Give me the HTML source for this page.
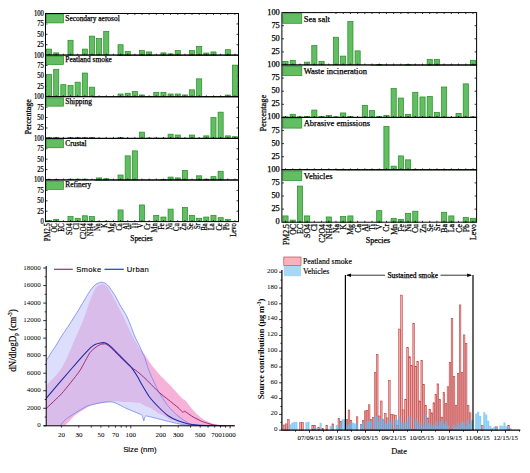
<!DOCTYPE html><html><head><meta charset="utf-8"><style>html,body{margin:0;padding:0;background:#fff;overflow:hidden}svg{display:block}</style></head><body>
<svg width="530" height="473" viewBox="0 0 530 473">
<rect width="530" height="473" fill="#fff"/>
<line x1="45.5" y1="44.71" x2="47.5" y2="44.71" stroke="#000" stroke-width="0.8"/>
<line x1="238.5" y1="44.71" x2="236.5" y2="44.71" stroke="#000" stroke-width="0.8"/>
<line x1="45.5" y1="34.31" x2="47.5" y2="34.31" stroke="#000" stroke-width="0.8"/>
<line x1="238.5" y1="34.31" x2="236.5" y2="34.31" stroke="#000" stroke-width="0.8"/>
<line x1="45.5" y1="23.91" x2="47.5" y2="23.91" stroke="#000" stroke-width="0.8"/>
<line x1="238.5" y1="23.91" x2="236.5" y2="23.91" stroke="#000" stroke-width="0.8"/>
<line x1="49.07" y1="13.5" x2="49.07" y2="14.9" stroke="#000" stroke-width="0.8"/>
<line x1="56.22" y1="13.5" x2="56.22" y2="14.9" stroke="#000" stroke-width="0.8"/>
<line x1="63.37" y1="13.5" x2="63.37" y2="14.9" stroke="#000" stroke-width="0.8"/>
<line x1="70.52" y1="13.5" x2="70.52" y2="14.9" stroke="#000" stroke-width="0.8"/>
<line x1="77.67" y1="13.5" x2="77.67" y2="14.9" stroke="#000" stroke-width="0.8"/>
<line x1="84.81" y1="13.5" x2="84.81" y2="14.9" stroke="#000" stroke-width="0.8"/>
<line x1="91.96" y1="13.5" x2="91.96" y2="14.9" stroke="#000" stroke-width="0.8"/>
<line x1="99.11" y1="13.5" x2="99.11" y2="14.9" stroke="#000" stroke-width="0.8"/>
<line x1="106.26" y1="13.5" x2="106.26" y2="14.9" stroke="#000" stroke-width="0.8"/>
<line x1="113.41" y1="13.5" x2="113.41" y2="14.9" stroke="#000" stroke-width="0.8"/>
<line x1="120.56" y1="13.5" x2="120.56" y2="14.9" stroke="#000" stroke-width="0.8"/>
<line x1="127.70" y1="13.5" x2="127.70" y2="14.9" stroke="#000" stroke-width="0.8"/>
<line x1="134.85" y1="13.5" x2="134.85" y2="14.9" stroke="#000" stroke-width="0.8"/>
<line x1="142.00" y1="13.5" x2="142.00" y2="14.9" stroke="#000" stroke-width="0.8"/>
<line x1="149.15" y1="13.5" x2="149.15" y2="14.9" stroke="#000" stroke-width="0.8"/>
<line x1="156.30" y1="13.5" x2="156.30" y2="14.9" stroke="#000" stroke-width="0.8"/>
<line x1="163.44" y1="13.5" x2="163.44" y2="14.9" stroke="#000" stroke-width="0.8"/>
<line x1="170.59" y1="13.5" x2="170.59" y2="14.9" stroke="#000" stroke-width="0.8"/>
<line x1="177.74" y1="13.5" x2="177.74" y2="14.9" stroke="#000" stroke-width="0.8"/>
<line x1="184.89" y1="13.5" x2="184.89" y2="14.9" stroke="#000" stroke-width="0.8"/>
<line x1="192.04" y1="13.5" x2="192.04" y2="14.9" stroke="#000" stroke-width="0.8"/>
<line x1="199.19" y1="13.5" x2="199.19" y2="14.9" stroke="#000" stroke-width="0.8"/>
<line x1="206.33" y1="13.5" x2="206.33" y2="14.9" stroke="#000" stroke-width="0.8"/>
<line x1="213.48" y1="13.5" x2="213.48" y2="14.9" stroke="#000" stroke-width="0.8"/>
<line x1="220.63" y1="13.5" x2="220.63" y2="14.9" stroke="#000" stroke-width="0.8"/>
<line x1="227.78" y1="13.5" x2="227.78" y2="14.9" stroke="#000" stroke-width="0.8"/>
<line x1="234.93" y1="13.5" x2="234.93" y2="14.9" stroke="#000" stroke-width="0.8"/>
<rect x="46.52" y="49.09" width="5.10" height="6.03" fill="#63bd63" stroke="#238c23" stroke-width="0.7"/>
<rect x="53.67" y="52.87" width="5.10" height="2.25" fill="#63bd63" stroke="#238c23" stroke-width="0.7"/>
<rect x="67.97" y="40.26" width="5.10" height="14.86" fill="#63bd63" stroke="#238c23" stroke-width="0.7"/>
<rect x="82.27" y="49.09" width="5.10" height="6.03" fill="#63bd63" stroke="#238c23" stroke-width="0.7"/>
<rect x="89.41" y="36.10" width="5.10" height="19.02" fill="#63bd63" stroke="#238c23" stroke-width="0.7"/>
<rect x="96.56" y="38.56" width="5.10" height="16.56" fill="#63bd63" stroke="#238c23" stroke-width="0.7"/>
<rect x="103.71" y="31.40" width="5.10" height="23.72" fill="#63bd63" stroke="#238c23" stroke-width="0.7"/>
<rect x="118.01" y="44.71" width="5.10" height="10.40" fill="#63bd63" stroke="#238c23" stroke-width="0.7"/>
<rect x="125.15" y="51.54" width="5.10" height="3.58" fill="#63bd63" stroke="#238c23" stroke-width="0.7"/>
<rect x="139.45" y="50.58" width="5.10" height="4.54" fill="#63bd63" stroke="#238c23" stroke-width="0.7"/>
<rect x="146.60" y="51.92" width="5.10" height="3.20" fill="#63bd63" stroke="#238c23" stroke-width="0.7"/>
<rect x="160.90" y="52.87" width="5.10" height="2.25" fill="#63bd63" stroke="#238c23" stroke-width="0.7"/>
<rect x="168.04" y="53.87" width="5.10" height="1.25" fill="#63bd63" stroke="#238c23" stroke-width="0.7"/>
<rect x="175.19" y="50.58" width="5.10" height="4.54" fill="#63bd63" stroke="#238c23" stroke-width="0.7"/>
<rect x="189.49" y="50.58" width="5.10" height="4.54" fill="#63bd63" stroke="#238c23" stroke-width="0.7"/>
<rect x="196.64" y="46.38" width="5.10" height="8.74" fill="#63bd63" stroke="#238c23" stroke-width="0.7"/>
<rect x="203.78" y="53.04" width="5.10" height="2.08" fill="#63bd63" stroke="#238c23" stroke-width="0.7"/>
<rect x="210.93" y="51.92" width="5.10" height="3.20" fill="#63bd63" stroke="#238c23" stroke-width="0.7"/>
<rect x="225.23" y="49.71" width="5.10" height="5.41" fill="#63bd63" stroke="#238c23" stroke-width="0.7"/>
<line x1="49.07" y1="55.12" x2="49.07" y2="53.72" stroke="#000" stroke-width="0.8"/>
<line x1="56.22" y1="55.12" x2="56.22" y2="53.72" stroke="#000" stroke-width="0.8"/>
<line x1="63.37" y1="55.12" x2="63.37" y2="53.72" stroke="#000" stroke-width="0.8"/>
<line x1="70.52" y1="55.12" x2="70.52" y2="53.72" stroke="#000" stroke-width="0.8"/>
<line x1="77.67" y1="55.12" x2="77.67" y2="53.72" stroke="#000" stroke-width="0.8"/>
<line x1="84.81" y1="55.12" x2="84.81" y2="53.72" stroke="#000" stroke-width="0.8"/>
<line x1="91.96" y1="55.12" x2="91.96" y2="53.72" stroke="#000" stroke-width="0.8"/>
<line x1="99.11" y1="55.12" x2="99.11" y2="53.72" stroke="#000" stroke-width="0.8"/>
<line x1="106.26" y1="55.12" x2="106.26" y2="53.72" stroke="#000" stroke-width="0.8"/>
<line x1="113.41" y1="55.12" x2="113.41" y2="53.72" stroke="#000" stroke-width="0.8"/>
<line x1="120.56" y1="55.12" x2="120.56" y2="53.72" stroke="#000" stroke-width="0.8"/>
<line x1="127.70" y1="55.12" x2="127.70" y2="53.72" stroke="#000" stroke-width="0.8"/>
<line x1="134.85" y1="55.12" x2="134.85" y2="53.72" stroke="#000" stroke-width="0.8"/>
<line x1="142.00" y1="55.12" x2="142.00" y2="53.72" stroke="#000" stroke-width="0.8"/>
<line x1="149.15" y1="55.12" x2="149.15" y2="53.72" stroke="#000" stroke-width="0.8"/>
<line x1="156.30" y1="55.12" x2="156.30" y2="53.72" stroke="#000" stroke-width="0.8"/>
<line x1="163.44" y1="55.12" x2="163.44" y2="53.72" stroke="#000" stroke-width="0.8"/>
<line x1="170.59" y1="55.12" x2="170.59" y2="53.72" stroke="#000" stroke-width="0.8"/>
<line x1="177.74" y1="55.12" x2="177.74" y2="53.72" stroke="#000" stroke-width="0.8"/>
<line x1="184.89" y1="55.12" x2="184.89" y2="53.72" stroke="#000" stroke-width="0.8"/>
<line x1="192.04" y1="55.12" x2="192.04" y2="53.72" stroke="#000" stroke-width="0.8"/>
<line x1="199.19" y1="55.12" x2="199.19" y2="53.72" stroke="#000" stroke-width="0.8"/>
<line x1="206.33" y1="55.12" x2="206.33" y2="53.72" stroke="#000" stroke-width="0.8"/>
<line x1="213.48" y1="55.12" x2="213.48" y2="53.72" stroke="#000" stroke-width="0.8"/>
<line x1="220.63" y1="55.12" x2="220.63" y2="53.72" stroke="#000" stroke-width="0.8"/>
<line x1="227.78" y1="55.12" x2="227.78" y2="53.72" stroke="#000" stroke-width="0.8"/>
<line x1="234.93" y1="55.12" x2="234.93" y2="53.72" stroke="#000" stroke-width="0.8"/>
<rect x="46.00" y="14.00" width="76.00" height="9.30" fill="#fff"/>
<rect x="46.40" y="14.60" width="17.00" height="8.30" fill="#63bd63" stroke="#238c23" stroke-width="0.7"/>
<text transform="translate(65.30,20.80)" text-anchor="start" font-family="Liberation Serif" font-size="7.4" stroke="#000" stroke-width="0.25" fill="#000">Secondary aerosol</text>
<text transform="translate(43.90,15.90) scale(0.740,1)" text-anchor="end" font-family="Liberation Serif" font-size="9.0" stroke="#000" stroke-width="0.25" fill="#000">100</text>
<text transform="translate(43.90,26.30) scale(0.740,1)" text-anchor="end" font-family="Liberation Serif" font-size="9.0" stroke="#000" stroke-width="0.25" fill="#000">75</text>
<text transform="translate(43.90,36.71) scale(0.740,1)" text-anchor="end" font-family="Liberation Serif" font-size="9.0" stroke="#000" stroke-width="0.25" fill="#000">50</text>
<text transform="translate(43.90,47.11) scale(0.740,1)" text-anchor="end" font-family="Liberation Serif" font-size="9.0" stroke="#000" stroke-width="0.25" fill="#000">25</text>
<rect x="45.5" y="13.50" width="193.0" height="41.62" fill="none" stroke="#000" stroke-width="1"/>
<line x1="45.5" y1="86.33" x2="47.5" y2="86.33" stroke="#000" stroke-width="0.8"/>
<line x1="238.5" y1="86.33" x2="236.5" y2="86.33" stroke="#000" stroke-width="0.8"/>
<line x1="45.5" y1="75.93" x2="47.5" y2="75.93" stroke="#000" stroke-width="0.8"/>
<line x1="238.5" y1="75.93" x2="236.5" y2="75.93" stroke="#000" stroke-width="0.8"/>
<line x1="45.5" y1="65.53" x2="47.5" y2="65.53" stroke="#000" stroke-width="0.8"/>
<line x1="238.5" y1="65.53" x2="236.5" y2="65.53" stroke="#000" stroke-width="0.8"/>
<rect x="46.52" y="74.27" width="5.10" height="22.47" fill="#63bd63" stroke="#238c23" stroke-width="0.7"/>
<rect x="53.67" y="69.27" width="5.10" height="27.47" fill="#63bd63" stroke="#238c23" stroke-width="0.7"/>
<rect x="60.82" y="84.67" width="5.10" height="12.07" fill="#63bd63" stroke="#238c23" stroke-width="0.7"/>
<rect x="67.97" y="85.50" width="5.10" height="11.24" fill="#63bd63" stroke="#238c23" stroke-width="0.7"/>
<rect x="75.12" y="82.17" width="5.10" height="14.57" fill="#63bd63" stroke="#238c23" stroke-width="0.7"/>
<rect x="82.27" y="73.02" width="5.10" height="23.72" fill="#63bd63" stroke="#238c23" stroke-width="0.7"/>
<rect x="89.41" y="87.17" width="5.10" height="9.57" fill="#63bd63" stroke="#238c23" stroke-width="0.7"/>
<rect x="118.01" y="93.99" width="5.10" height="2.75" fill="#63bd63" stroke="#238c23" stroke-width="0.7"/>
<rect x="125.15" y="93.24" width="5.10" height="3.50" fill="#63bd63" stroke="#238c23" stroke-width="0.7"/>
<rect x="132.30" y="91.54" width="5.10" height="5.20" fill="#63bd63" stroke="#238c23" stroke-width="0.7"/>
<rect x="139.45" y="94.95" width="5.10" height="1.79" fill="#63bd63" stroke="#238c23" stroke-width="0.7"/>
<rect x="146.60" y="96.32" width="5.10" height="0.42" fill="#63bd63" stroke="#238c23" stroke-width="0.7"/>
<rect x="153.75" y="92.29" width="5.10" height="4.45" fill="#63bd63" stroke="#238c23" stroke-width="0.7"/>
<rect x="160.90" y="92.29" width="5.10" height="4.45" fill="#63bd63" stroke="#238c23" stroke-width="0.7"/>
<rect x="168.04" y="93.99" width="5.10" height="2.75" fill="#63bd63" stroke="#238c23" stroke-width="0.7"/>
<rect x="175.19" y="93.99" width="5.10" height="2.75" fill="#63bd63" stroke="#238c23" stroke-width="0.7"/>
<rect x="182.34" y="94.95" width="5.10" height="1.79" fill="#63bd63" stroke="#238c23" stroke-width="0.7"/>
<rect x="189.49" y="89.83" width="5.10" height="6.91" fill="#63bd63" stroke="#238c23" stroke-width="0.7"/>
<rect x="196.64" y="78.84" width="5.10" height="17.90" fill="#63bd63" stroke="#238c23" stroke-width="0.7"/>
<rect x="203.78" y="96.53" width="5.10" height="0.21" fill="#63bd63" stroke="#238c23" stroke-width="0.7"/>
<rect x="210.93" y="96.53" width="5.10" height="0.21" fill="#63bd63" stroke="#238c23" stroke-width="0.7"/>
<rect x="218.08" y="96.53" width="5.10" height="0.21" fill="#63bd63" stroke="#238c23" stroke-width="0.7"/>
<rect x="225.23" y="95.08" width="5.10" height="1.66" fill="#63bd63" stroke="#238c23" stroke-width="0.7"/>
<rect x="232.38" y="65.11" width="5.10" height="31.63" fill="#63bd63" stroke="#238c23" stroke-width="0.7"/>
<line x1="49.07" y1="96.74" x2="49.07" y2="95.33999999999999" stroke="#000" stroke-width="0.8"/>
<line x1="56.22" y1="96.74" x2="56.22" y2="95.33999999999999" stroke="#000" stroke-width="0.8"/>
<line x1="63.37" y1="96.74" x2="63.37" y2="95.33999999999999" stroke="#000" stroke-width="0.8"/>
<line x1="70.52" y1="96.74" x2="70.52" y2="95.33999999999999" stroke="#000" stroke-width="0.8"/>
<line x1="77.67" y1="96.74" x2="77.67" y2="95.33999999999999" stroke="#000" stroke-width="0.8"/>
<line x1="84.81" y1="96.74" x2="84.81" y2="95.33999999999999" stroke="#000" stroke-width="0.8"/>
<line x1="91.96" y1="96.74" x2="91.96" y2="95.33999999999999" stroke="#000" stroke-width="0.8"/>
<line x1="99.11" y1="96.74" x2="99.11" y2="95.33999999999999" stroke="#000" stroke-width="0.8"/>
<line x1="106.26" y1="96.74" x2="106.26" y2="95.33999999999999" stroke="#000" stroke-width="0.8"/>
<line x1="113.41" y1="96.74" x2="113.41" y2="95.33999999999999" stroke="#000" stroke-width="0.8"/>
<line x1="120.56" y1="96.74" x2="120.56" y2="95.33999999999999" stroke="#000" stroke-width="0.8"/>
<line x1="127.70" y1="96.74" x2="127.70" y2="95.33999999999999" stroke="#000" stroke-width="0.8"/>
<line x1="134.85" y1="96.74" x2="134.85" y2="95.33999999999999" stroke="#000" stroke-width="0.8"/>
<line x1="142.00" y1="96.74" x2="142.00" y2="95.33999999999999" stroke="#000" stroke-width="0.8"/>
<line x1="149.15" y1="96.74" x2="149.15" y2="95.33999999999999" stroke="#000" stroke-width="0.8"/>
<line x1="156.30" y1="96.74" x2="156.30" y2="95.33999999999999" stroke="#000" stroke-width="0.8"/>
<line x1="163.44" y1="96.74" x2="163.44" y2="95.33999999999999" stroke="#000" stroke-width="0.8"/>
<line x1="170.59" y1="96.74" x2="170.59" y2="95.33999999999999" stroke="#000" stroke-width="0.8"/>
<line x1="177.74" y1="96.74" x2="177.74" y2="95.33999999999999" stroke="#000" stroke-width="0.8"/>
<line x1="184.89" y1="96.74" x2="184.89" y2="95.33999999999999" stroke="#000" stroke-width="0.8"/>
<line x1="192.04" y1="96.74" x2="192.04" y2="95.33999999999999" stroke="#000" stroke-width="0.8"/>
<line x1="199.19" y1="96.74" x2="199.19" y2="95.33999999999999" stroke="#000" stroke-width="0.8"/>
<line x1="206.33" y1="96.74" x2="206.33" y2="95.33999999999999" stroke="#000" stroke-width="0.8"/>
<line x1="213.48" y1="96.74" x2="213.48" y2="95.33999999999999" stroke="#000" stroke-width="0.8"/>
<line x1="220.63" y1="96.74" x2="220.63" y2="95.33999999999999" stroke="#000" stroke-width="0.8"/>
<line x1="227.78" y1="96.74" x2="227.78" y2="95.33999999999999" stroke="#000" stroke-width="0.8"/>
<line x1="234.93" y1="96.74" x2="234.93" y2="95.33999999999999" stroke="#000" stroke-width="0.8"/>
<rect x="46.00" y="55.62" width="71.00" height="9.30" fill="#fff"/>
<rect x="46.40" y="56.22" width="17.00" height="8.30" fill="#63bd63" stroke="#238c23" stroke-width="0.7"/>
<text transform="translate(65.30,62.42)" text-anchor="start" font-family="Liberation Serif" font-size="7.4" stroke="#000" stroke-width="0.25" fill="#000">Peatland smoke</text>
<text transform="translate(43.90,57.52) scale(0.740,1)" text-anchor="end" font-family="Liberation Serif" font-size="9.0" stroke="#000" stroke-width="0.25" fill="#000">100</text>
<text transform="translate(43.90,67.92) scale(0.740,1)" text-anchor="end" font-family="Liberation Serif" font-size="9.0" stroke="#000" stroke-width="0.25" fill="#000">75</text>
<text transform="translate(43.90,78.33) scale(0.740,1)" text-anchor="end" font-family="Liberation Serif" font-size="9.0" stroke="#000" stroke-width="0.25" fill="#000">50</text>
<text transform="translate(43.90,88.73) scale(0.740,1)" text-anchor="end" font-family="Liberation Serif" font-size="9.0" stroke="#000" stroke-width="0.25" fill="#000">25</text>
<rect x="45.5" y="55.12" width="193.0" height="41.62" fill="none" stroke="#000" stroke-width="1"/>
<line x1="45.5" y1="127.95" x2="47.5" y2="127.95" stroke="#000" stroke-width="0.8"/>
<line x1="238.5" y1="127.95" x2="236.5" y2="127.95" stroke="#000" stroke-width="0.8"/>
<line x1="45.5" y1="117.55" x2="47.5" y2="117.55" stroke="#000" stroke-width="0.8"/>
<line x1="238.5" y1="117.55" x2="236.5" y2="117.55" stroke="#000" stroke-width="0.8"/>
<line x1="45.5" y1="107.14" x2="47.5" y2="107.14" stroke="#000" stroke-width="0.8"/>
<line x1="238.5" y1="107.14" x2="236.5" y2="107.14" stroke="#000" stroke-width="0.8"/>
<rect x="46.52" y="137.53" width="5.10" height="0.83" fill="#63bd63" stroke="#238c23" stroke-width="0.7"/>
<rect x="53.67" y="137.53" width="5.10" height="0.83" fill="#63bd63" stroke="#238c23" stroke-width="0.7"/>
<rect x="67.97" y="137.53" width="5.10" height="0.83" fill="#63bd63" stroke="#238c23" stroke-width="0.7"/>
<rect x="75.12" y="137.53" width="5.10" height="0.83" fill="#63bd63" stroke="#238c23" stroke-width="0.7"/>
<rect x="82.27" y="137.53" width="5.10" height="0.83" fill="#63bd63" stroke="#238c23" stroke-width="0.7"/>
<rect x="89.41" y="137.53" width="5.10" height="0.83" fill="#63bd63" stroke="#238c23" stroke-width="0.7"/>
<rect x="118.01" y="137.53" width="5.10" height="0.83" fill="#63bd63" stroke="#238c23" stroke-width="0.7"/>
<rect x="139.45" y="132.12" width="5.10" height="6.24" fill="#63bd63" stroke="#238c23" stroke-width="0.7"/>
<rect x="146.60" y="138.15" width="5.10" height="0.21" fill="#63bd63" stroke="#238c23" stroke-width="0.7"/>
<rect x="153.75" y="138.15" width="5.10" height="0.21" fill="#63bd63" stroke="#238c23" stroke-width="0.7"/>
<rect x="160.90" y="138.15" width="5.10" height="0.21" fill="#63bd63" stroke="#238c23" stroke-width="0.7"/>
<rect x="168.04" y="134.20" width="5.10" height="4.16" fill="#63bd63" stroke="#238c23" stroke-width="0.7"/>
<rect x="175.19" y="135.03" width="5.10" height="3.33" fill="#63bd63" stroke="#238c23" stroke-width="0.7"/>
<rect x="189.49" y="135.03" width="5.10" height="3.33" fill="#63bd63" stroke="#238c23" stroke-width="0.7"/>
<rect x="203.78" y="135.86" width="5.10" height="2.50" fill="#63bd63" stroke="#238c23" stroke-width="0.7"/>
<rect x="210.93" y="117.55" width="5.10" height="20.81" fill="#63bd63" stroke="#238c23" stroke-width="0.7"/>
<rect x="218.08" y="112.14" width="5.10" height="26.22" fill="#63bd63" stroke="#238c23" stroke-width="0.7"/>
<rect x="225.23" y="135.86" width="5.10" height="2.50" fill="#63bd63" stroke="#238c23" stroke-width="0.7"/>
<rect x="232.38" y="136.70" width="5.10" height="1.66" fill="#63bd63" stroke="#238c23" stroke-width="0.7"/>
<line x1="49.07" y1="138.35999999999999" x2="49.07" y2="136.95999999999998" stroke="#000" stroke-width="0.8"/>
<line x1="56.22" y1="138.35999999999999" x2="56.22" y2="136.95999999999998" stroke="#000" stroke-width="0.8"/>
<line x1="63.37" y1="138.35999999999999" x2="63.37" y2="136.95999999999998" stroke="#000" stroke-width="0.8"/>
<line x1="70.52" y1="138.35999999999999" x2="70.52" y2="136.95999999999998" stroke="#000" stroke-width="0.8"/>
<line x1="77.67" y1="138.35999999999999" x2="77.67" y2="136.95999999999998" stroke="#000" stroke-width="0.8"/>
<line x1="84.81" y1="138.35999999999999" x2="84.81" y2="136.95999999999998" stroke="#000" stroke-width="0.8"/>
<line x1="91.96" y1="138.35999999999999" x2="91.96" y2="136.95999999999998" stroke="#000" stroke-width="0.8"/>
<line x1="99.11" y1="138.35999999999999" x2="99.11" y2="136.95999999999998" stroke="#000" stroke-width="0.8"/>
<line x1="106.26" y1="138.35999999999999" x2="106.26" y2="136.95999999999998" stroke="#000" stroke-width="0.8"/>
<line x1="113.41" y1="138.35999999999999" x2="113.41" y2="136.95999999999998" stroke="#000" stroke-width="0.8"/>
<line x1="120.56" y1="138.35999999999999" x2="120.56" y2="136.95999999999998" stroke="#000" stroke-width="0.8"/>
<line x1="127.70" y1="138.35999999999999" x2="127.70" y2="136.95999999999998" stroke="#000" stroke-width="0.8"/>
<line x1="134.85" y1="138.35999999999999" x2="134.85" y2="136.95999999999998" stroke="#000" stroke-width="0.8"/>
<line x1="142.00" y1="138.35999999999999" x2="142.00" y2="136.95999999999998" stroke="#000" stroke-width="0.8"/>
<line x1="149.15" y1="138.35999999999999" x2="149.15" y2="136.95999999999998" stroke="#000" stroke-width="0.8"/>
<line x1="156.30" y1="138.35999999999999" x2="156.30" y2="136.95999999999998" stroke="#000" stroke-width="0.8"/>
<line x1="163.44" y1="138.35999999999999" x2="163.44" y2="136.95999999999998" stroke="#000" stroke-width="0.8"/>
<line x1="170.59" y1="138.35999999999999" x2="170.59" y2="136.95999999999998" stroke="#000" stroke-width="0.8"/>
<line x1="177.74" y1="138.35999999999999" x2="177.74" y2="136.95999999999998" stroke="#000" stroke-width="0.8"/>
<line x1="184.89" y1="138.35999999999999" x2="184.89" y2="136.95999999999998" stroke="#000" stroke-width="0.8"/>
<line x1="192.04" y1="138.35999999999999" x2="192.04" y2="136.95999999999998" stroke="#000" stroke-width="0.8"/>
<line x1="199.19" y1="138.35999999999999" x2="199.19" y2="136.95999999999998" stroke="#000" stroke-width="0.8"/>
<line x1="206.33" y1="138.35999999999999" x2="206.33" y2="136.95999999999998" stroke="#000" stroke-width="0.8"/>
<line x1="213.48" y1="138.35999999999999" x2="213.48" y2="136.95999999999998" stroke="#000" stroke-width="0.8"/>
<line x1="220.63" y1="138.35999999999999" x2="220.63" y2="136.95999999999998" stroke="#000" stroke-width="0.8"/>
<line x1="227.78" y1="138.35999999999999" x2="227.78" y2="136.95999999999998" stroke="#000" stroke-width="0.8"/>
<line x1="234.93" y1="138.35999999999999" x2="234.93" y2="136.95999999999998" stroke="#000" stroke-width="0.8"/>
<rect x="46.00" y="97.24" width="46.00" height="9.30" fill="#fff"/>
<rect x="46.40" y="97.84" width="17.00" height="8.30" fill="#63bd63" stroke="#238c23" stroke-width="0.7"/>
<text transform="translate(65.30,104.04)" text-anchor="start" font-family="Liberation Serif" font-size="7.4" stroke="#000" stroke-width="0.25" fill="#000">Shipping</text>
<text transform="translate(43.90,99.14) scale(0.740,1)" text-anchor="end" font-family="Liberation Serif" font-size="9.0" stroke="#000" stroke-width="0.25" fill="#000">100</text>
<text transform="translate(43.90,109.55) scale(0.740,1)" text-anchor="end" font-family="Liberation Serif" font-size="9.0" stroke="#000" stroke-width="0.25" fill="#000">75</text>
<text transform="translate(43.90,119.95) scale(0.740,1)" text-anchor="end" font-family="Liberation Serif" font-size="9.0" stroke="#000" stroke-width="0.25" fill="#000">50</text>
<text transform="translate(43.90,130.35) scale(0.740,1)" text-anchor="end" font-family="Liberation Serif" font-size="9.0" stroke="#000" stroke-width="0.25" fill="#000">25</text>
<rect x="45.5" y="96.74" width="193.0" height="41.62" fill="none" stroke="#000" stroke-width="1"/>
<line x1="45.5" y1="169.57" x2="47.5" y2="169.57" stroke="#000" stroke-width="0.8"/>
<line x1="238.5" y1="169.57" x2="236.5" y2="169.57" stroke="#000" stroke-width="0.8"/>
<line x1="45.5" y1="159.17" x2="47.5" y2="159.17" stroke="#000" stroke-width="0.8"/>
<line x1="238.5" y1="159.17" x2="236.5" y2="159.17" stroke="#000" stroke-width="0.8"/>
<line x1="45.5" y1="148.76" x2="47.5" y2="148.76" stroke="#000" stroke-width="0.8"/>
<line x1="238.5" y1="148.76" x2="236.5" y2="148.76" stroke="#000" stroke-width="0.8"/>
<rect x="46.52" y="179.56" width="5.10" height="0.42" fill="#63bd63" stroke="#238c23" stroke-width="0.7"/>
<rect x="53.67" y="179.56" width="5.10" height="0.42" fill="#63bd63" stroke="#238c23" stroke-width="0.7"/>
<rect x="67.97" y="179.15" width="5.10" height="0.83" fill="#63bd63" stroke="#238c23" stroke-width="0.7"/>
<rect x="75.12" y="179.15" width="5.10" height="0.83" fill="#63bd63" stroke="#238c23" stroke-width="0.7"/>
<rect x="82.27" y="179.15" width="5.10" height="0.83" fill="#63bd63" stroke="#238c23" stroke-width="0.7"/>
<rect x="96.56" y="177.90" width="5.10" height="2.08" fill="#63bd63" stroke="#238c23" stroke-width="0.7"/>
<rect x="103.71" y="178.73" width="5.10" height="1.25" fill="#63bd63" stroke="#238c23" stroke-width="0.7"/>
<rect x="118.01" y="174.99" width="5.10" height="4.99" fill="#63bd63" stroke="#238c23" stroke-width="0.7"/>
<rect x="125.15" y="155.84" width="5.10" height="24.14" fill="#63bd63" stroke="#238c23" stroke-width="0.7"/>
<rect x="132.30" y="150.85" width="5.10" height="29.13" fill="#63bd63" stroke="#238c23" stroke-width="0.7"/>
<rect x="160.90" y="179.56" width="5.10" height="0.42" fill="#63bd63" stroke="#238c23" stroke-width="0.7"/>
<rect x="168.04" y="177.07" width="5.10" height="2.91" fill="#63bd63" stroke="#238c23" stroke-width="0.7"/>
<rect x="175.19" y="177.90" width="5.10" height="2.08" fill="#63bd63" stroke="#238c23" stroke-width="0.7"/>
<rect x="182.34" y="170.41" width="5.10" height="9.57" fill="#63bd63" stroke="#238c23" stroke-width="0.7"/>
<rect x="196.64" y="175.82" width="5.10" height="4.16" fill="#63bd63" stroke="#238c23" stroke-width="0.7"/>
<rect x="203.78" y="179.15" width="5.10" height="0.83" fill="#63bd63" stroke="#238c23" stroke-width="0.7"/>
<rect x="210.93" y="176.65" width="5.10" height="3.33" fill="#63bd63" stroke="#238c23" stroke-width="0.7"/>
<rect x="218.08" y="171.24" width="5.10" height="8.74" fill="#63bd63" stroke="#238c23" stroke-width="0.7"/>
<line x1="49.07" y1="179.98" x2="49.07" y2="178.57999999999998" stroke="#000" stroke-width="0.8"/>
<line x1="56.22" y1="179.98" x2="56.22" y2="178.57999999999998" stroke="#000" stroke-width="0.8"/>
<line x1="63.37" y1="179.98" x2="63.37" y2="178.57999999999998" stroke="#000" stroke-width="0.8"/>
<line x1="70.52" y1="179.98" x2="70.52" y2="178.57999999999998" stroke="#000" stroke-width="0.8"/>
<line x1="77.67" y1="179.98" x2="77.67" y2="178.57999999999998" stroke="#000" stroke-width="0.8"/>
<line x1="84.81" y1="179.98" x2="84.81" y2="178.57999999999998" stroke="#000" stroke-width="0.8"/>
<line x1="91.96" y1="179.98" x2="91.96" y2="178.57999999999998" stroke="#000" stroke-width="0.8"/>
<line x1="99.11" y1="179.98" x2="99.11" y2="178.57999999999998" stroke="#000" stroke-width="0.8"/>
<line x1="106.26" y1="179.98" x2="106.26" y2="178.57999999999998" stroke="#000" stroke-width="0.8"/>
<line x1="113.41" y1="179.98" x2="113.41" y2="178.57999999999998" stroke="#000" stroke-width="0.8"/>
<line x1="120.56" y1="179.98" x2="120.56" y2="178.57999999999998" stroke="#000" stroke-width="0.8"/>
<line x1="127.70" y1="179.98" x2="127.70" y2="178.57999999999998" stroke="#000" stroke-width="0.8"/>
<line x1="134.85" y1="179.98" x2="134.85" y2="178.57999999999998" stroke="#000" stroke-width="0.8"/>
<line x1="142.00" y1="179.98" x2="142.00" y2="178.57999999999998" stroke="#000" stroke-width="0.8"/>
<line x1="149.15" y1="179.98" x2="149.15" y2="178.57999999999998" stroke="#000" stroke-width="0.8"/>
<line x1="156.30" y1="179.98" x2="156.30" y2="178.57999999999998" stroke="#000" stroke-width="0.8"/>
<line x1="163.44" y1="179.98" x2="163.44" y2="178.57999999999998" stroke="#000" stroke-width="0.8"/>
<line x1="170.59" y1="179.98" x2="170.59" y2="178.57999999999998" stroke="#000" stroke-width="0.8"/>
<line x1="177.74" y1="179.98" x2="177.74" y2="178.57999999999998" stroke="#000" stroke-width="0.8"/>
<line x1="184.89" y1="179.98" x2="184.89" y2="178.57999999999998" stroke="#000" stroke-width="0.8"/>
<line x1="192.04" y1="179.98" x2="192.04" y2="178.57999999999998" stroke="#000" stroke-width="0.8"/>
<line x1="199.19" y1="179.98" x2="199.19" y2="178.57999999999998" stroke="#000" stroke-width="0.8"/>
<line x1="206.33" y1="179.98" x2="206.33" y2="178.57999999999998" stroke="#000" stroke-width="0.8"/>
<line x1="213.48" y1="179.98" x2="213.48" y2="178.57999999999998" stroke="#000" stroke-width="0.8"/>
<line x1="220.63" y1="179.98" x2="220.63" y2="178.57999999999998" stroke="#000" stroke-width="0.8"/>
<line x1="227.78" y1="179.98" x2="227.78" y2="178.57999999999998" stroke="#000" stroke-width="0.8"/>
<line x1="234.93" y1="179.98" x2="234.93" y2="178.57999999999998" stroke="#000" stroke-width="0.8"/>
<rect x="46.00" y="138.86" width="45.00" height="9.30" fill="#fff"/>
<rect x="46.40" y="139.46" width="17.00" height="8.30" fill="#63bd63" stroke="#238c23" stroke-width="0.7"/>
<text transform="translate(65.30,145.66)" text-anchor="start" font-family="Liberation Serif" font-size="7.4" stroke="#000" stroke-width="0.25" fill="#000">Crustal</text>
<text transform="translate(43.90,140.76) scale(0.740,1)" text-anchor="end" font-family="Liberation Serif" font-size="9.0" stroke="#000" stroke-width="0.25" fill="#000">100</text>
<text transform="translate(43.90,151.16) scale(0.740,1)" text-anchor="end" font-family="Liberation Serif" font-size="9.0" stroke="#000" stroke-width="0.25" fill="#000">75</text>
<text transform="translate(43.90,161.57) scale(0.740,1)" text-anchor="end" font-family="Liberation Serif" font-size="9.0" stroke="#000" stroke-width="0.25" fill="#000">50</text>
<text transform="translate(43.90,171.97) scale(0.740,1)" text-anchor="end" font-family="Liberation Serif" font-size="9.0" stroke="#000" stroke-width="0.25" fill="#000">25</text>
<rect x="45.5" y="138.36" width="193.0" height="41.62" fill="none" stroke="#000" stroke-width="1"/>
<line x1="45.5" y1="211.19" x2="47.5" y2="211.19" stroke="#000" stroke-width="0.8"/>
<line x1="238.5" y1="211.19" x2="236.5" y2="211.19" stroke="#000" stroke-width="0.8"/>
<line x1="45.5" y1="200.79" x2="47.5" y2="200.79" stroke="#000" stroke-width="0.8"/>
<line x1="238.5" y1="200.79" x2="236.5" y2="200.79" stroke="#000" stroke-width="0.8"/>
<line x1="45.5" y1="190.38" x2="47.5" y2="190.38" stroke="#000" stroke-width="0.8"/>
<line x1="238.5" y1="190.38" x2="236.5" y2="190.38" stroke="#000" stroke-width="0.8"/>
<rect x="46.52" y="220.35" width="5.10" height="1.25" fill="#63bd63" stroke="#238c23" stroke-width="0.7"/>
<rect x="53.67" y="219.31" width="5.10" height="2.29" fill="#63bd63" stroke="#238c23" stroke-width="0.7"/>
<rect x="67.97" y="216.61" width="5.10" height="4.99" fill="#63bd63" stroke="#238c23" stroke-width="0.7"/>
<rect x="75.12" y="218.27" width="5.10" height="3.33" fill="#63bd63" stroke="#238c23" stroke-width="0.7"/>
<rect x="82.27" y="215.77" width="5.10" height="5.83" fill="#63bd63" stroke="#238c23" stroke-width="0.7"/>
<rect x="89.41" y="216.61" width="5.10" height="4.99" fill="#63bd63" stroke="#238c23" stroke-width="0.7"/>
<rect x="96.56" y="221.39" width="5.10" height="0.21" fill="#63bd63" stroke="#238c23" stroke-width="0.7"/>
<rect x="103.71" y="221.18" width="5.10" height="0.42" fill="#63bd63" stroke="#238c23" stroke-width="0.7"/>
<rect x="110.86" y="221.39" width="5.10" height="0.21" fill="#63bd63" stroke="#238c23" stroke-width="0.7"/>
<rect x="118.01" y="209.95" width="5.10" height="11.65" fill="#63bd63" stroke="#238c23" stroke-width="0.7"/>
<rect x="139.45" y="204.95" width="5.10" height="16.65" fill="#63bd63" stroke="#238c23" stroke-width="0.7"/>
<rect x="153.75" y="215.36" width="5.10" height="6.24" fill="#63bd63" stroke="#238c23" stroke-width="0.7"/>
<rect x="160.90" y="217.02" width="5.10" height="4.58" fill="#63bd63" stroke="#238c23" stroke-width="0.7"/>
<rect x="168.04" y="209.11" width="5.10" height="12.49" fill="#63bd63" stroke="#238c23" stroke-width="0.7"/>
<rect x="182.34" y="207.45" width="5.10" height="14.15" fill="#63bd63" stroke="#238c23" stroke-width="0.7"/>
<rect x="189.49" y="215.36" width="5.10" height="6.24" fill="#63bd63" stroke="#238c23" stroke-width="0.7"/>
<rect x="196.64" y="218.27" width="5.10" height="3.33" fill="#63bd63" stroke="#238c23" stroke-width="0.7"/>
<rect x="203.78" y="217.02" width="5.10" height="4.58" fill="#63bd63" stroke="#238c23" stroke-width="0.7"/>
<rect x="210.93" y="215.36" width="5.10" height="6.24" fill="#63bd63" stroke="#238c23" stroke-width="0.7"/>
<rect x="218.08" y="217.65" width="5.10" height="3.95" fill="#63bd63" stroke="#238c23" stroke-width="0.7"/>
<rect x="225.23" y="219.31" width="5.10" height="2.29" fill="#63bd63" stroke="#238c23" stroke-width="0.7"/>
<line x1="49.07" y1="221.6" x2="49.07" y2="220.2" stroke="#000" stroke-width="0.8"/>
<line x1="56.22" y1="221.6" x2="56.22" y2="220.2" stroke="#000" stroke-width="0.8"/>
<line x1="63.37" y1="221.6" x2="63.37" y2="220.2" stroke="#000" stroke-width="0.8"/>
<line x1="70.52" y1="221.6" x2="70.52" y2="220.2" stroke="#000" stroke-width="0.8"/>
<line x1="77.67" y1="221.6" x2="77.67" y2="220.2" stroke="#000" stroke-width="0.8"/>
<line x1="84.81" y1="221.6" x2="84.81" y2="220.2" stroke="#000" stroke-width="0.8"/>
<line x1="91.96" y1="221.6" x2="91.96" y2="220.2" stroke="#000" stroke-width="0.8"/>
<line x1="99.11" y1="221.6" x2="99.11" y2="220.2" stroke="#000" stroke-width="0.8"/>
<line x1="106.26" y1="221.6" x2="106.26" y2="220.2" stroke="#000" stroke-width="0.8"/>
<line x1="113.41" y1="221.6" x2="113.41" y2="220.2" stroke="#000" stroke-width="0.8"/>
<line x1="120.56" y1="221.6" x2="120.56" y2="220.2" stroke="#000" stroke-width="0.8"/>
<line x1="127.70" y1="221.6" x2="127.70" y2="220.2" stroke="#000" stroke-width="0.8"/>
<line x1="134.85" y1="221.6" x2="134.85" y2="220.2" stroke="#000" stroke-width="0.8"/>
<line x1="142.00" y1="221.6" x2="142.00" y2="220.2" stroke="#000" stroke-width="0.8"/>
<line x1="149.15" y1="221.6" x2="149.15" y2="220.2" stroke="#000" stroke-width="0.8"/>
<line x1="156.30" y1="221.6" x2="156.30" y2="220.2" stroke="#000" stroke-width="0.8"/>
<line x1="163.44" y1="221.6" x2="163.44" y2="220.2" stroke="#000" stroke-width="0.8"/>
<line x1="170.59" y1="221.6" x2="170.59" y2="220.2" stroke="#000" stroke-width="0.8"/>
<line x1="177.74" y1="221.6" x2="177.74" y2="220.2" stroke="#000" stroke-width="0.8"/>
<line x1="184.89" y1="221.6" x2="184.89" y2="220.2" stroke="#000" stroke-width="0.8"/>
<line x1="192.04" y1="221.6" x2="192.04" y2="220.2" stroke="#000" stroke-width="0.8"/>
<line x1="199.19" y1="221.6" x2="199.19" y2="220.2" stroke="#000" stroke-width="0.8"/>
<line x1="206.33" y1="221.6" x2="206.33" y2="220.2" stroke="#000" stroke-width="0.8"/>
<line x1="213.48" y1="221.6" x2="213.48" y2="220.2" stroke="#000" stroke-width="0.8"/>
<line x1="220.63" y1="221.6" x2="220.63" y2="220.2" stroke="#000" stroke-width="0.8"/>
<line x1="227.78" y1="221.6" x2="227.78" y2="220.2" stroke="#000" stroke-width="0.8"/>
<line x1="234.93" y1="221.6" x2="234.93" y2="220.2" stroke="#000" stroke-width="0.8"/>
<rect x="46.00" y="180.48" width="48.00" height="9.30" fill="#fff"/>
<rect x="46.40" y="181.08" width="17.00" height="8.30" fill="#63bd63" stroke="#238c23" stroke-width="0.7"/>
<text transform="translate(65.30,187.28)" text-anchor="start" font-family="Liberation Serif" font-size="7.4" stroke="#000" stroke-width="0.25" fill="#000">Refinery</text>
<text transform="translate(43.90,182.38) scale(0.740,1)" text-anchor="end" font-family="Liberation Serif" font-size="9.0" stroke="#000" stroke-width="0.25" fill="#000">100</text>
<text transform="translate(43.90,192.78) scale(0.740,1)" text-anchor="end" font-family="Liberation Serif" font-size="9.0" stroke="#000" stroke-width="0.25" fill="#000">75</text>
<text transform="translate(43.90,203.19) scale(0.740,1)" text-anchor="end" font-family="Liberation Serif" font-size="9.0" stroke="#000" stroke-width="0.25" fill="#000">50</text>
<text transform="translate(43.90,213.59) scale(0.740,1)" text-anchor="end" font-family="Liberation Serif" font-size="9.0" stroke="#000" stroke-width="0.25" fill="#000">25</text>
<rect x="45.5" y="179.98" width="193.0" height="41.62" fill="none" stroke="#000" stroke-width="1"/>
<text transform="translate(43.90,224.00) scale(0.740,1)" text-anchor="end" font-family="Liberation Serif" font-size="9.0" stroke="#000" stroke-width="0.25" fill="#000">0</text>
<text transform="translate(50.07,223.20) rotate(-90) scale(0.740,1)" text-anchor="end" font-family="Liberation Serif" font-size="9.0" stroke="#000" stroke-width="0.25" fill="#000">PM2.5</text>
<text transform="translate(57.22,223.20) rotate(-90) scale(0.740,1)" text-anchor="end" font-family="Liberation Serif" font-size="9.0" stroke="#000" stroke-width="0.25" fill="#000">OC</text>
<text transform="translate(64.37,223.20) rotate(-90) scale(0.740,1)" text-anchor="end" font-family="Liberation Serif" font-size="9.0" stroke="#000" stroke-width="0.25" fill="#000">EC</text>
<text transform="translate(71.52,223.20) rotate(-90) scale(0.740,1)" text-anchor="end" font-family="Liberation Serif" font-size="9.0" stroke="#000" stroke-width="0.25" fill="#000">SO4</text>
<text transform="translate(78.67,223.20) rotate(-90) scale(0.740,1)" text-anchor="end" font-family="Liberation Serif" font-size="9.0" stroke="#000" stroke-width="0.25" fill="#000">Cl</text>
<text transform="translate(85.81,223.20) rotate(-90) scale(0.740,1)" text-anchor="end" font-family="Liberation Serif" font-size="9.0" stroke="#000" stroke-width="0.25" fill="#000">C2O4</text>
<text transform="translate(92.96,223.20) rotate(-90) scale(0.740,1)" text-anchor="end" font-family="Liberation Serif" font-size="9.0" stroke="#000" stroke-width="0.25" fill="#000">NH4</text>
<text transform="translate(100.11,223.20) rotate(-90) scale(0.740,1)" text-anchor="end" font-family="Liberation Serif" font-size="9.0" stroke="#000" stroke-width="0.25" fill="#000">Na</text>
<text transform="translate(107.26,223.20) rotate(-90) scale(0.740,1)" text-anchor="end" font-family="Liberation Serif" font-size="9.0" stroke="#000" stroke-width="0.25" fill="#000">K</text>
<text transform="translate(114.41,223.20) rotate(-90) scale(0.740,1)" text-anchor="end" font-family="Liberation Serif" font-size="9.0" stroke="#000" stroke-width="0.25" fill="#000">Mg</text>
<text transform="translate(121.56,223.20) rotate(-90) scale(0.740,1)" text-anchor="end" font-family="Liberation Serif" font-size="9.0" stroke="#000" stroke-width="0.25" fill="#000">Ca</text>
<text transform="translate(128.70,223.20) rotate(-90) scale(0.740,1)" text-anchor="end" font-family="Liberation Serif" font-size="9.0" stroke="#000" stroke-width="0.25" fill="#000">Al</text>
<text transform="translate(135.85,223.20) rotate(-90) scale(0.740,1)" text-anchor="end" font-family="Liberation Serif" font-size="9.0" stroke="#000" stroke-width="0.25" fill="#000">Ti</text>
<text transform="translate(143.00,223.20) rotate(-90) scale(0.740,1)" text-anchor="end" font-family="Liberation Serif" font-size="9.0" stroke="#000" stroke-width="0.25" fill="#000">V</text>
<text transform="translate(150.15,223.20) rotate(-90) scale(0.740,1)" text-anchor="end" font-family="Liberation Serif" font-size="9.0" stroke="#000" stroke-width="0.25" fill="#000">Cr</text>
<text transform="translate(157.30,223.20) rotate(-90) scale(0.740,1)" text-anchor="end" font-family="Liberation Serif" font-size="9.0" stroke="#000" stroke-width="0.25" fill="#000">Mn</text>
<text transform="translate(164.44,223.20) rotate(-90) scale(0.740,1)" text-anchor="end" font-family="Liberation Serif" font-size="9.0" stroke="#000" stroke-width="0.25" fill="#000">Fe</text>
<text transform="translate(171.59,223.20) rotate(-90) scale(0.740,1)" text-anchor="end" font-family="Liberation Serif" font-size="9.0" stroke="#000" stroke-width="0.25" fill="#000">Ni</text>
<text transform="translate(178.74,223.20) rotate(-90) scale(0.740,1)" text-anchor="end" font-family="Liberation Serif" font-size="9.0" stroke="#000" stroke-width="0.25" fill="#000">Cu</text>
<text transform="translate(185.89,223.20) rotate(-90) scale(0.740,1)" text-anchor="end" font-family="Liberation Serif" font-size="9.0" stroke="#000" stroke-width="0.25" fill="#000">Zn</text>
<text transform="translate(193.04,223.20) rotate(-90) scale(0.740,1)" text-anchor="end" font-family="Liberation Serif" font-size="9.0" stroke="#000" stroke-width="0.25" fill="#000">Se</text>
<text transform="translate(200.19,223.20) rotate(-90) scale(0.740,1)" text-anchor="end" font-family="Liberation Serif" font-size="9.0" stroke="#000" stroke-width="0.25" fill="#000">Sr</text>
<text transform="translate(207.33,223.20) rotate(-90) scale(0.740,1)" text-anchor="end" font-family="Liberation Serif" font-size="9.0" stroke="#000" stroke-width="0.25" fill="#000">Ba</text>
<text transform="translate(214.48,223.20) rotate(-90) scale(0.740,1)" text-anchor="end" font-family="Liberation Serif" font-size="9.0" stroke="#000" stroke-width="0.25" fill="#000">La</text>
<text transform="translate(221.63,223.20) rotate(-90) scale(0.740,1)" text-anchor="end" font-family="Liberation Serif" font-size="9.0" stroke="#000" stroke-width="0.25" fill="#000">Ce</text>
<text transform="translate(228.78,223.20) rotate(-90) scale(0.740,1)" text-anchor="end" font-family="Liberation Serif" font-size="9.0" stroke="#000" stroke-width="0.25" fill="#000">Pb</text>
<text transform="translate(235.93,223.20) rotate(-90) scale(0.740,1)" text-anchor="end" font-family="Liberation Serif" font-size="9.0" stroke="#000" stroke-width="0.25" fill="#000">Levo</text>
<text transform="translate(141.50,240.50)" text-anchor="middle" font-family="Liberation Serif" font-size="7.3" stroke="#000" stroke-width="0.25" fill="#000">Species</text>
<text transform="translate(30.50,116.80) rotate(-90)" text-anchor="middle" font-family="Liberation Serif" font-size="8.1" stroke="#000" stroke-width="0.25" fill="#000">Percentage</text>
<line x1="281.9" y1="51.90" x2="283.9" y2="51.90" stroke="#000" stroke-width="0.8"/>
<line x1="476.6" y1="51.90" x2="474.6" y2="51.90" stroke="#000" stroke-width="0.8"/>
<line x1="281.9" y1="38.80" x2="283.9" y2="38.80" stroke="#000" stroke-width="0.8"/>
<line x1="476.6" y1="38.80" x2="474.6" y2="38.80" stroke="#000" stroke-width="0.8"/>
<line x1="281.9" y1="25.70" x2="283.9" y2="25.70" stroke="#000" stroke-width="0.8"/>
<line x1="476.6" y1="25.70" x2="474.6" y2="25.70" stroke="#000" stroke-width="0.8"/>
<line x1="285.51" y1="12.6" x2="285.51" y2="14.0" stroke="#000" stroke-width="0.8"/>
<line x1="292.72" y1="12.6" x2="292.72" y2="14.0" stroke="#000" stroke-width="0.8"/>
<line x1="299.93" y1="12.6" x2="299.93" y2="14.0" stroke="#000" stroke-width="0.8"/>
<line x1="307.14" y1="12.6" x2="307.14" y2="14.0" stroke="#000" stroke-width="0.8"/>
<line x1="314.35" y1="12.6" x2="314.35" y2="14.0" stroke="#000" stroke-width="0.8"/>
<line x1="321.56" y1="12.6" x2="321.56" y2="14.0" stroke="#000" stroke-width="0.8"/>
<line x1="328.77" y1="12.6" x2="328.77" y2="14.0" stroke="#000" stroke-width="0.8"/>
<line x1="335.98" y1="12.6" x2="335.98" y2="14.0" stroke="#000" stroke-width="0.8"/>
<line x1="343.19" y1="12.6" x2="343.19" y2="14.0" stroke="#000" stroke-width="0.8"/>
<line x1="350.41" y1="12.6" x2="350.41" y2="14.0" stroke="#000" stroke-width="0.8"/>
<line x1="357.62" y1="12.6" x2="357.62" y2="14.0" stroke="#000" stroke-width="0.8"/>
<line x1="364.83" y1="12.6" x2="364.83" y2="14.0" stroke="#000" stroke-width="0.8"/>
<line x1="372.04" y1="12.6" x2="372.04" y2="14.0" stroke="#000" stroke-width="0.8"/>
<line x1="379.25" y1="12.6" x2="379.25" y2="14.0" stroke="#000" stroke-width="0.8"/>
<line x1="386.46" y1="12.6" x2="386.46" y2="14.0" stroke="#000" stroke-width="0.8"/>
<line x1="393.67" y1="12.6" x2="393.67" y2="14.0" stroke="#000" stroke-width="0.8"/>
<line x1="400.88" y1="12.6" x2="400.88" y2="14.0" stroke="#000" stroke-width="0.8"/>
<line x1="408.09" y1="12.6" x2="408.09" y2="14.0" stroke="#000" stroke-width="0.8"/>
<line x1="415.31" y1="12.6" x2="415.31" y2="14.0" stroke="#000" stroke-width="0.8"/>
<line x1="422.52" y1="12.6" x2="422.52" y2="14.0" stroke="#000" stroke-width="0.8"/>
<line x1="429.73" y1="12.6" x2="429.73" y2="14.0" stroke="#000" stroke-width="0.8"/>
<line x1="436.94" y1="12.6" x2="436.94" y2="14.0" stroke="#000" stroke-width="0.8"/>
<line x1="444.15" y1="12.6" x2="444.15" y2="14.0" stroke="#000" stroke-width="0.8"/>
<line x1="451.36" y1="12.6" x2="451.36" y2="14.0" stroke="#000" stroke-width="0.8"/>
<line x1="458.57" y1="12.6" x2="458.57" y2="14.0" stroke="#000" stroke-width="0.8"/>
<line x1="465.78" y1="12.6" x2="465.78" y2="14.0" stroke="#000" stroke-width="0.8"/>
<line x1="472.99" y1="12.6" x2="472.99" y2="14.0" stroke="#000" stroke-width="0.8"/>
<rect x="282.92" y="61.33" width="5.16" height="3.67" fill="#63bd63" stroke="#238c23" stroke-width="0.7"/>
<rect x="290.14" y="60.28" width="5.16" height="4.72" fill="#63bd63" stroke="#238c23" stroke-width="0.7"/>
<rect x="304.56" y="62.12" width="5.16" height="2.88" fill="#63bd63" stroke="#238c23" stroke-width="0.7"/>
<rect x="311.77" y="45.61" width="5.16" height="19.39" fill="#63bd63" stroke="#238c23" stroke-width="0.7"/>
<rect x="318.98" y="61.33" width="5.16" height="3.67" fill="#63bd63" stroke="#238c23" stroke-width="0.7"/>
<rect x="333.40" y="37.23" width="5.16" height="27.77" fill="#63bd63" stroke="#238c23" stroke-width="0.7"/>
<rect x="340.61" y="56.09" width="5.16" height="8.91" fill="#63bd63" stroke="#238c23" stroke-width="0.7"/>
<rect x="347.82" y="21.51" width="5.16" height="43.49" fill="#63bd63" stroke="#238c23" stroke-width="0.7"/>
<rect x="355.04" y="50.85" width="5.16" height="14.15" fill="#63bd63" stroke="#238c23" stroke-width="0.7"/>
<rect x="376.67" y="64.48" width="5.16" height="0.52" fill="#63bd63" stroke="#238c23" stroke-width="0.7"/>
<rect x="405.51" y="64.74" width="5.16" height="0.26" fill="#63bd63" stroke="#238c23" stroke-width="0.7"/>
<rect x="427.15" y="59.45" width="5.16" height="5.55" fill="#63bd63" stroke="#238c23" stroke-width="0.7"/>
<rect x="434.36" y="59.45" width="5.16" height="5.55" fill="#63bd63" stroke="#238c23" stroke-width="0.7"/>
<rect x="470.41" y="60.28" width="5.16" height="4.72" fill="#63bd63" stroke="#238c23" stroke-width="0.7"/>
<line x1="285.51" y1="65.0" x2="285.51" y2="63.6" stroke="#000" stroke-width="0.8"/>
<line x1="292.72" y1="65.0" x2="292.72" y2="63.6" stroke="#000" stroke-width="0.8"/>
<line x1="299.93" y1="65.0" x2="299.93" y2="63.6" stroke="#000" stroke-width="0.8"/>
<line x1="307.14" y1="65.0" x2="307.14" y2="63.6" stroke="#000" stroke-width="0.8"/>
<line x1="314.35" y1="65.0" x2="314.35" y2="63.6" stroke="#000" stroke-width="0.8"/>
<line x1="321.56" y1="65.0" x2="321.56" y2="63.6" stroke="#000" stroke-width="0.8"/>
<line x1="328.77" y1="65.0" x2="328.77" y2="63.6" stroke="#000" stroke-width="0.8"/>
<line x1="335.98" y1="65.0" x2="335.98" y2="63.6" stroke="#000" stroke-width="0.8"/>
<line x1="343.19" y1="65.0" x2="343.19" y2="63.6" stroke="#000" stroke-width="0.8"/>
<line x1="350.41" y1="65.0" x2="350.41" y2="63.6" stroke="#000" stroke-width="0.8"/>
<line x1="357.62" y1="65.0" x2="357.62" y2="63.6" stroke="#000" stroke-width="0.8"/>
<line x1="364.83" y1="65.0" x2="364.83" y2="63.6" stroke="#000" stroke-width="0.8"/>
<line x1="372.04" y1="65.0" x2="372.04" y2="63.6" stroke="#000" stroke-width="0.8"/>
<line x1="379.25" y1="65.0" x2="379.25" y2="63.6" stroke="#000" stroke-width="0.8"/>
<line x1="386.46" y1="65.0" x2="386.46" y2="63.6" stroke="#000" stroke-width="0.8"/>
<line x1="393.67" y1="65.0" x2="393.67" y2="63.6" stroke="#000" stroke-width="0.8"/>
<line x1="400.88" y1="65.0" x2="400.88" y2="63.6" stroke="#000" stroke-width="0.8"/>
<line x1="408.09" y1="65.0" x2="408.09" y2="63.6" stroke="#000" stroke-width="0.8"/>
<line x1="415.31" y1="65.0" x2="415.31" y2="63.6" stroke="#000" stroke-width="0.8"/>
<line x1="422.52" y1="65.0" x2="422.52" y2="63.6" stroke="#000" stroke-width="0.8"/>
<line x1="429.73" y1="65.0" x2="429.73" y2="63.6" stroke="#000" stroke-width="0.8"/>
<line x1="436.94" y1="65.0" x2="436.94" y2="63.6" stroke="#000" stroke-width="0.8"/>
<line x1="444.15" y1="65.0" x2="444.15" y2="63.6" stroke="#000" stroke-width="0.8"/>
<line x1="451.36" y1="65.0" x2="451.36" y2="63.6" stroke="#000" stroke-width="0.8"/>
<line x1="458.57" y1="65.0" x2="458.57" y2="63.6" stroke="#000" stroke-width="0.8"/>
<line x1="465.78" y1="65.0" x2="465.78" y2="63.6" stroke="#000" stroke-width="0.8"/>
<line x1="472.99" y1="65.0" x2="472.99" y2="63.6" stroke="#000" stroke-width="0.8"/>
<rect x="282.40" y="13.10" width="52.00" height="10.60" fill="#fff"/>
<rect x="282.80" y="13.70" width="19.00" height="9.60" fill="#63bd63" stroke="#238c23" stroke-width="0.7"/>
<text transform="translate(303.70,21.60)" text-anchor="start" font-family="Liberation Serif" font-size="8.5" stroke="#000" stroke-width="0.25" fill="#000">Sea salt</text>
<text transform="translate(279.80,14.60)" text-anchor="end" font-family="Liberation Serif" font-size="8.4" stroke="#000" stroke-width="0.25" fill="#000">100</text>
<text transform="translate(279.80,27.70)" text-anchor="end" font-family="Liberation Serif" font-size="8.4" stroke="#000" stroke-width="0.25" fill="#000">75</text>
<text transform="translate(279.80,40.80)" text-anchor="end" font-family="Liberation Serif" font-size="8.4" stroke="#000" stroke-width="0.25" fill="#000">50</text>
<text transform="translate(279.80,53.90)" text-anchor="end" font-family="Liberation Serif" font-size="8.4" stroke="#000" stroke-width="0.25" fill="#000">25</text>
<rect x="281.9" y="12.60" width="194.70000000000005" height="52.40" fill="none" stroke="#000" stroke-width="1"/>
<line x1="281.9" y1="104.30" x2="283.9" y2="104.30" stroke="#000" stroke-width="0.8"/>
<line x1="476.6" y1="104.30" x2="474.6" y2="104.30" stroke="#000" stroke-width="0.8"/>
<line x1="281.9" y1="91.20" x2="283.9" y2="91.20" stroke="#000" stroke-width="0.8"/>
<line x1="476.6" y1="91.20" x2="474.6" y2="91.20" stroke="#000" stroke-width="0.8"/>
<line x1="281.9" y1="78.10" x2="283.9" y2="78.10" stroke="#000" stroke-width="0.8"/>
<line x1="476.6" y1="78.10" x2="474.6" y2="78.10" stroke="#000" stroke-width="0.8"/>
<rect x="282.92" y="116.88" width="5.16" height="0.52" fill="#63bd63" stroke="#238c23" stroke-width="0.7"/>
<rect x="290.14" y="114.26" width="5.16" height="3.14" fill="#63bd63" stroke="#238c23" stroke-width="0.7"/>
<rect x="297.35" y="116.88" width="5.16" height="0.52" fill="#63bd63" stroke="#238c23" stroke-width="0.7"/>
<rect x="304.56" y="116.35" width="5.16" height="1.05" fill="#63bd63" stroke="#238c23" stroke-width="0.7"/>
<rect x="311.77" y="110.06" width="5.16" height="7.34" fill="#63bd63" stroke="#238c23" stroke-width="0.7"/>
<rect x="318.98" y="116.35" width="5.16" height="1.05" fill="#63bd63" stroke="#238c23" stroke-width="0.7"/>
<rect x="326.19" y="115.30" width="5.16" height="2.10" fill="#63bd63" stroke="#238c23" stroke-width="0.7"/>
<rect x="333.40" y="116.88" width="5.16" height="0.52" fill="#63bd63" stroke="#238c23" stroke-width="0.7"/>
<rect x="340.61" y="112.95" width="5.16" height="4.45" fill="#63bd63" stroke="#238c23" stroke-width="0.7"/>
<rect x="347.82" y="116.35" width="5.16" height="1.05" fill="#63bd63" stroke="#238c23" stroke-width="0.7"/>
<rect x="362.25" y="105.35" width="5.16" height="12.05" fill="#63bd63" stroke="#238c23" stroke-width="0.7"/>
<rect x="369.46" y="110.59" width="5.16" height="6.81" fill="#63bd63" stroke="#238c23" stroke-width="0.7"/>
<rect x="376.67" y="116.35" width="5.16" height="1.05" fill="#63bd63" stroke="#238c23" stroke-width="0.7"/>
<rect x="383.88" y="115.30" width="5.16" height="2.10" fill="#63bd63" stroke="#238c23" stroke-width="0.7"/>
<rect x="391.09" y="88.58" width="5.16" height="28.82" fill="#63bd63" stroke="#238c23" stroke-width="0.7"/>
<rect x="398.30" y="98.01" width="5.16" height="19.39" fill="#63bd63" stroke="#238c23" stroke-width="0.7"/>
<rect x="405.51" y="114.26" width="5.16" height="3.14" fill="#63bd63" stroke="#238c23" stroke-width="0.7"/>
<rect x="412.73" y="92.25" width="5.16" height="25.15" fill="#63bd63" stroke="#238c23" stroke-width="0.7"/>
<rect x="419.94" y="96.96" width="5.16" height="20.44" fill="#63bd63" stroke="#238c23" stroke-width="0.7"/>
<rect x="427.15" y="96.44" width="5.16" height="20.96" fill="#63bd63" stroke="#238c23" stroke-width="0.7"/>
<rect x="434.36" y="112.42" width="5.16" height="4.98" fill="#63bd63" stroke="#238c23" stroke-width="0.7"/>
<rect x="441.57" y="87.01" width="5.16" height="30.39" fill="#63bd63" stroke="#238c23" stroke-width="0.7"/>
<rect x="455.99" y="113.37" width="5.16" height="4.03" fill="#63bd63" stroke="#238c23" stroke-width="0.7"/>
<rect x="463.20" y="83.86" width="5.16" height="33.54" fill="#63bd63" stroke="#238c23" stroke-width="0.7"/>
<rect x="470.41" y="116.88" width="5.16" height="0.52" fill="#63bd63" stroke="#238c23" stroke-width="0.7"/>
<line x1="285.51" y1="117.4" x2="285.51" y2="116.0" stroke="#000" stroke-width="0.8"/>
<line x1="292.72" y1="117.4" x2="292.72" y2="116.0" stroke="#000" stroke-width="0.8"/>
<line x1="299.93" y1="117.4" x2="299.93" y2="116.0" stroke="#000" stroke-width="0.8"/>
<line x1="307.14" y1="117.4" x2="307.14" y2="116.0" stroke="#000" stroke-width="0.8"/>
<line x1="314.35" y1="117.4" x2="314.35" y2="116.0" stroke="#000" stroke-width="0.8"/>
<line x1="321.56" y1="117.4" x2="321.56" y2="116.0" stroke="#000" stroke-width="0.8"/>
<line x1="328.77" y1="117.4" x2="328.77" y2="116.0" stroke="#000" stroke-width="0.8"/>
<line x1="335.98" y1="117.4" x2="335.98" y2="116.0" stroke="#000" stroke-width="0.8"/>
<line x1="343.19" y1="117.4" x2="343.19" y2="116.0" stroke="#000" stroke-width="0.8"/>
<line x1="350.41" y1="117.4" x2="350.41" y2="116.0" stroke="#000" stroke-width="0.8"/>
<line x1="357.62" y1="117.4" x2="357.62" y2="116.0" stroke="#000" stroke-width="0.8"/>
<line x1="364.83" y1="117.4" x2="364.83" y2="116.0" stroke="#000" stroke-width="0.8"/>
<line x1="372.04" y1="117.4" x2="372.04" y2="116.0" stroke="#000" stroke-width="0.8"/>
<line x1="379.25" y1="117.4" x2="379.25" y2="116.0" stroke="#000" stroke-width="0.8"/>
<line x1="386.46" y1="117.4" x2="386.46" y2="116.0" stroke="#000" stroke-width="0.8"/>
<line x1="393.67" y1="117.4" x2="393.67" y2="116.0" stroke="#000" stroke-width="0.8"/>
<line x1="400.88" y1="117.4" x2="400.88" y2="116.0" stroke="#000" stroke-width="0.8"/>
<line x1="408.09" y1="117.4" x2="408.09" y2="116.0" stroke="#000" stroke-width="0.8"/>
<line x1="415.31" y1="117.4" x2="415.31" y2="116.0" stroke="#000" stroke-width="0.8"/>
<line x1="422.52" y1="117.4" x2="422.52" y2="116.0" stroke="#000" stroke-width="0.8"/>
<line x1="429.73" y1="117.4" x2="429.73" y2="116.0" stroke="#000" stroke-width="0.8"/>
<line x1="436.94" y1="117.4" x2="436.94" y2="116.0" stroke="#000" stroke-width="0.8"/>
<line x1="444.15" y1="117.4" x2="444.15" y2="116.0" stroke="#000" stroke-width="0.8"/>
<line x1="451.36" y1="117.4" x2="451.36" y2="116.0" stroke="#000" stroke-width="0.8"/>
<line x1="458.57" y1="117.4" x2="458.57" y2="116.0" stroke="#000" stroke-width="0.8"/>
<line x1="465.78" y1="117.4" x2="465.78" y2="116.0" stroke="#000" stroke-width="0.8"/>
<line x1="472.99" y1="117.4" x2="472.99" y2="116.0" stroke="#000" stroke-width="0.8"/>
<rect x="282.40" y="65.50" width="88.00" height="10.60" fill="#fff"/>
<rect x="282.80" y="66.10" width="19.00" height="9.60" fill="#63bd63" stroke="#238c23" stroke-width="0.7"/>
<text transform="translate(303.70,74.00)" text-anchor="start" font-family="Liberation Serif" font-size="8.5" stroke="#000" stroke-width="0.25" fill="#000">Waste incineration</text>
<text transform="translate(279.80,67.00)" text-anchor="end" font-family="Liberation Serif" font-size="8.4" stroke="#000" stroke-width="0.25" fill="#000">100</text>
<text transform="translate(279.80,80.10)" text-anchor="end" font-family="Liberation Serif" font-size="8.4" stroke="#000" stroke-width="0.25" fill="#000">75</text>
<text transform="translate(279.80,93.20)" text-anchor="end" font-family="Liberation Serif" font-size="8.4" stroke="#000" stroke-width="0.25" fill="#000">50</text>
<text transform="translate(279.80,106.30)" text-anchor="end" font-family="Liberation Serif" font-size="8.4" stroke="#000" stroke-width="0.25" fill="#000">25</text>
<rect x="281.9" y="65.00" width="194.70000000000005" height="52.40" fill="none" stroke="#000" stroke-width="1"/>
<line x1="281.9" y1="156.70" x2="283.9" y2="156.70" stroke="#000" stroke-width="0.8"/>
<line x1="476.6" y1="156.70" x2="474.6" y2="156.70" stroke="#000" stroke-width="0.8"/>
<line x1="281.9" y1="143.60" x2="283.9" y2="143.60" stroke="#000" stroke-width="0.8"/>
<line x1="476.6" y1="143.60" x2="474.6" y2="143.60" stroke="#000" stroke-width="0.8"/>
<line x1="281.9" y1="130.50" x2="283.9" y2="130.50" stroke="#000" stroke-width="0.8"/>
<line x1="476.6" y1="130.50" x2="474.6" y2="130.50" stroke="#000" stroke-width="0.8"/>
<rect x="282.92" y="169.54" width="5.16" height="0.26" fill="#63bd63" stroke="#238c23" stroke-width="0.7"/>
<rect x="290.14" y="169.54" width="5.16" height="0.26" fill="#63bd63" stroke="#238c23" stroke-width="0.7"/>
<rect x="297.35" y="169.54" width="5.16" height="0.26" fill="#63bd63" stroke="#238c23" stroke-width="0.7"/>
<rect x="304.56" y="169.54" width="5.16" height="0.26" fill="#63bd63" stroke="#238c23" stroke-width="0.7"/>
<rect x="311.77" y="169.54" width="5.16" height="0.26" fill="#63bd63" stroke="#238c23" stroke-width="0.7"/>
<rect x="318.98" y="169.54" width="5.16" height="0.26" fill="#63bd63" stroke="#238c23" stroke-width="0.7"/>
<rect x="326.19" y="169.54" width="5.16" height="0.26" fill="#63bd63" stroke="#238c23" stroke-width="0.7"/>
<rect x="333.40" y="169.54" width="5.16" height="0.26" fill="#63bd63" stroke="#238c23" stroke-width="0.7"/>
<rect x="340.61" y="169.54" width="5.16" height="0.26" fill="#63bd63" stroke="#238c23" stroke-width="0.7"/>
<rect x="347.82" y="169.54" width="5.16" height="0.26" fill="#63bd63" stroke="#238c23" stroke-width="0.7"/>
<rect x="355.04" y="169.54" width="5.16" height="0.26" fill="#63bd63" stroke="#238c23" stroke-width="0.7"/>
<rect x="362.25" y="169.54" width="5.16" height="0.26" fill="#63bd63" stroke="#238c23" stroke-width="0.7"/>
<rect x="369.46" y="169.54" width="5.16" height="0.26" fill="#63bd63" stroke="#238c23" stroke-width="0.7"/>
<rect x="376.67" y="169.54" width="5.16" height="0.26" fill="#63bd63" stroke="#238c23" stroke-width="0.7"/>
<rect x="383.88" y="126.31" width="5.16" height="43.49" fill="#63bd63" stroke="#238c23" stroke-width="0.7"/>
<rect x="391.09" y="166.13" width="5.16" height="3.67" fill="#63bd63" stroke="#238c23" stroke-width="0.7"/>
<rect x="398.30" y="155.91" width="5.16" height="13.89" fill="#63bd63" stroke="#238c23" stroke-width="0.7"/>
<rect x="405.51" y="159.84" width="5.16" height="9.96" fill="#63bd63" stroke="#238c23" stroke-width="0.7"/>
<rect x="412.73" y="169.28" width="5.16" height="0.52" fill="#63bd63" stroke="#238c23" stroke-width="0.7"/>
<rect x="419.94" y="169.54" width="5.16" height="0.26" fill="#63bd63" stroke="#238c23" stroke-width="0.7"/>
<rect x="427.15" y="169.54" width="5.16" height="0.26" fill="#63bd63" stroke="#238c23" stroke-width="0.7"/>
<rect x="434.36" y="169.54" width="5.16" height="0.26" fill="#63bd63" stroke="#238c23" stroke-width="0.7"/>
<rect x="441.57" y="169.54" width="5.16" height="0.26" fill="#63bd63" stroke="#238c23" stroke-width="0.7"/>
<rect x="448.78" y="169.54" width="5.16" height="0.26" fill="#63bd63" stroke="#238c23" stroke-width="0.7"/>
<rect x="455.99" y="169.54" width="5.16" height="0.26" fill="#63bd63" stroke="#238c23" stroke-width="0.7"/>
<rect x="463.20" y="169.54" width="5.16" height="0.26" fill="#63bd63" stroke="#238c23" stroke-width="0.7"/>
<rect x="470.41" y="169.54" width="5.16" height="0.26" fill="#63bd63" stroke="#238c23" stroke-width="0.7"/>
<line x1="285.51" y1="169.79999999999998" x2="285.51" y2="168.39999999999998" stroke="#000" stroke-width="0.8"/>
<line x1="292.72" y1="169.79999999999998" x2="292.72" y2="168.39999999999998" stroke="#000" stroke-width="0.8"/>
<line x1="299.93" y1="169.79999999999998" x2="299.93" y2="168.39999999999998" stroke="#000" stroke-width="0.8"/>
<line x1="307.14" y1="169.79999999999998" x2="307.14" y2="168.39999999999998" stroke="#000" stroke-width="0.8"/>
<line x1="314.35" y1="169.79999999999998" x2="314.35" y2="168.39999999999998" stroke="#000" stroke-width="0.8"/>
<line x1="321.56" y1="169.79999999999998" x2="321.56" y2="168.39999999999998" stroke="#000" stroke-width="0.8"/>
<line x1="328.77" y1="169.79999999999998" x2="328.77" y2="168.39999999999998" stroke="#000" stroke-width="0.8"/>
<line x1="335.98" y1="169.79999999999998" x2="335.98" y2="168.39999999999998" stroke="#000" stroke-width="0.8"/>
<line x1="343.19" y1="169.79999999999998" x2="343.19" y2="168.39999999999998" stroke="#000" stroke-width="0.8"/>
<line x1="350.41" y1="169.79999999999998" x2="350.41" y2="168.39999999999998" stroke="#000" stroke-width="0.8"/>
<line x1="357.62" y1="169.79999999999998" x2="357.62" y2="168.39999999999998" stroke="#000" stroke-width="0.8"/>
<line x1="364.83" y1="169.79999999999998" x2="364.83" y2="168.39999999999998" stroke="#000" stroke-width="0.8"/>
<line x1="372.04" y1="169.79999999999998" x2="372.04" y2="168.39999999999998" stroke="#000" stroke-width="0.8"/>
<line x1="379.25" y1="169.79999999999998" x2="379.25" y2="168.39999999999998" stroke="#000" stroke-width="0.8"/>
<line x1="386.46" y1="169.79999999999998" x2="386.46" y2="168.39999999999998" stroke="#000" stroke-width="0.8"/>
<line x1="393.67" y1="169.79999999999998" x2="393.67" y2="168.39999999999998" stroke="#000" stroke-width="0.8"/>
<line x1="400.88" y1="169.79999999999998" x2="400.88" y2="168.39999999999998" stroke="#000" stroke-width="0.8"/>
<line x1="408.09" y1="169.79999999999998" x2="408.09" y2="168.39999999999998" stroke="#000" stroke-width="0.8"/>
<line x1="415.31" y1="169.79999999999998" x2="415.31" y2="168.39999999999998" stroke="#000" stroke-width="0.8"/>
<line x1="422.52" y1="169.79999999999998" x2="422.52" y2="168.39999999999998" stroke="#000" stroke-width="0.8"/>
<line x1="429.73" y1="169.79999999999998" x2="429.73" y2="168.39999999999998" stroke="#000" stroke-width="0.8"/>
<line x1="436.94" y1="169.79999999999998" x2="436.94" y2="168.39999999999998" stroke="#000" stroke-width="0.8"/>
<line x1="444.15" y1="169.79999999999998" x2="444.15" y2="168.39999999999998" stroke="#000" stroke-width="0.8"/>
<line x1="451.36" y1="169.79999999999998" x2="451.36" y2="168.39999999999998" stroke="#000" stroke-width="0.8"/>
<line x1="458.57" y1="169.79999999999998" x2="458.57" y2="168.39999999999998" stroke="#000" stroke-width="0.8"/>
<line x1="465.78" y1="169.79999999999998" x2="465.78" y2="168.39999999999998" stroke="#000" stroke-width="0.8"/>
<line x1="472.99" y1="169.79999999999998" x2="472.99" y2="168.39999999999998" stroke="#000" stroke-width="0.8"/>
<rect x="282.40" y="117.90" width="90.00" height="10.60" fill="#fff"/>
<rect x="282.80" y="118.50" width="19.00" height="9.60" fill="#63bd63" stroke="#238c23" stroke-width="0.7"/>
<text transform="translate(303.70,126.40)" text-anchor="start" font-family="Liberation Serif" font-size="8.5" stroke="#000" stroke-width="0.25" fill="#000">Abrasive emissions</text>
<text transform="translate(279.80,119.40)" text-anchor="end" font-family="Liberation Serif" font-size="8.4" stroke="#000" stroke-width="0.25" fill="#000">100</text>
<text transform="translate(279.80,132.50)" text-anchor="end" font-family="Liberation Serif" font-size="8.4" stroke="#000" stroke-width="0.25" fill="#000">75</text>
<text transform="translate(279.80,145.60)" text-anchor="end" font-family="Liberation Serif" font-size="8.4" stroke="#000" stroke-width="0.25" fill="#000">50</text>
<text transform="translate(279.80,158.70)" text-anchor="end" font-family="Liberation Serif" font-size="8.4" stroke="#000" stroke-width="0.25" fill="#000">25</text>
<rect x="281.9" y="117.40" width="194.70000000000005" height="52.40" fill="none" stroke="#000" stroke-width="1"/>
<line x1="281.9" y1="209.10" x2="283.9" y2="209.10" stroke="#000" stroke-width="0.8"/>
<line x1="476.6" y1="209.10" x2="474.6" y2="209.10" stroke="#000" stroke-width="0.8"/>
<line x1="281.9" y1="196.00" x2="283.9" y2="196.00" stroke="#000" stroke-width="0.8"/>
<line x1="476.6" y1="196.00" x2="474.6" y2="196.00" stroke="#000" stroke-width="0.8"/>
<line x1="281.9" y1="182.90" x2="283.9" y2="182.90" stroke="#000" stroke-width="0.8"/>
<line x1="476.6" y1="182.90" x2="474.6" y2="182.90" stroke="#000" stroke-width="0.8"/>
<rect x="282.92" y="215.91" width="5.16" height="6.29" fill="#63bd63" stroke="#238c23" stroke-width="0.7"/>
<rect x="290.14" y="220.10" width="5.16" height="2.10" fill="#63bd63" stroke="#238c23" stroke-width="0.7"/>
<rect x="297.35" y="186.04" width="5.16" height="36.16" fill="#63bd63" stroke="#238c23" stroke-width="0.7"/>
<rect x="304.56" y="215.91" width="5.16" height="6.29" fill="#63bd63" stroke="#238c23" stroke-width="0.7"/>
<rect x="326.19" y="216.96" width="5.16" height="5.24" fill="#63bd63" stroke="#238c23" stroke-width="0.7"/>
<rect x="340.61" y="216.44" width="5.16" height="5.76" fill="#63bd63" stroke="#238c23" stroke-width="0.7"/>
<rect x="347.82" y="215.91" width="5.16" height="6.29" fill="#63bd63" stroke="#238c23" stroke-width="0.7"/>
<rect x="376.67" y="210.67" width="5.16" height="11.53" fill="#63bd63" stroke="#238c23" stroke-width="0.7"/>
<rect x="391.09" y="218.27" width="5.16" height="3.93" fill="#63bd63" stroke="#238c23" stroke-width="0.7"/>
<rect x="398.30" y="219.37" width="5.16" height="2.83" fill="#63bd63" stroke="#238c23" stroke-width="0.7"/>
<rect x="405.51" y="213.29" width="5.16" height="8.91" fill="#63bd63" stroke="#238c23" stroke-width="0.7"/>
<rect x="412.73" y="211.20" width="5.16" height="11.00" fill="#63bd63" stroke="#238c23" stroke-width="0.7"/>
<rect x="441.57" y="212.24" width="5.16" height="9.96" fill="#63bd63" stroke="#238c23" stroke-width="0.7"/>
<rect x="448.78" y="215.91" width="5.16" height="6.29" fill="#63bd63" stroke="#238c23" stroke-width="0.7"/>
<rect x="463.20" y="217.48" width="5.16" height="4.72" fill="#63bd63" stroke="#238c23" stroke-width="0.7"/>
<rect x="470.41" y="218.27" width="5.16" height="3.93" fill="#63bd63" stroke="#238c23" stroke-width="0.7"/>
<line x1="285.51" y1="222.2" x2="285.51" y2="220.79999999999998" stroke="#000" stroke-width="0.8"/>
<line x1="292.72" y1="222.2" x2="292.72" y2="220.79999999999998" stroke="#000" stroke-width="0.8"/>
<line x1="299.93" y1="222.2" x2="299.93" y2="220.79999999999998" stroke="#000" stroke-width="0.8"/>
<line x1="307.14" y1="222.2" x2="307.14" y2="220.79999999999998" stroke="#000" stroke-width="0.8"/>
<line x1="314.35" y1="222.2" x2="314.35" y2="220.79999999999998" stroke="#000" stroke-width="0.8"/>
<line x1="321.56" y1="222.2" x2="321.56" y2="220.79999999999998" stroke="#000" stroke-width="0.8"/>
<line x1="328.77" y1="222.2" x2="328.77" y2="220.79999999999998" stroke="#000" stroke-width="0.8"/>
<line x1="335.98" y1="222.2" x2="335.98" y2="220.79999999999998" stroke="#000" stroke-width="0.8"/>
<line x1="343.19" y1="222.2" x2="343.19" y2="220.79999999999998" stroke="#000" stroke-width="0.8"/>
<line x1="350.41" y1="222.2" x2="350.41" y2="220.79999999999998" stroke="#000" stroke-width="0.8"/>
<line x1="357.62" y1="222.2" x2="357.62" y2="220.79999999999998" stroke="#000" stroke-width="0.8"/>
<line x1="364.83" y1="222.2" x2="364.83" y2="220.79999999999998" stroke="#000" stroke-width="0.8"/>
<line x1="372.04" y1="222.2" x2="372.04" y2="220.79999999999998" stroke="#000" stroke-width="0.8"/>
<line x1="379.25" y1="222.2" x2="379.25" y2="220.79999999999998" stroke="#000" stroke-width="0.8"/>
<line x1="386.46" y1="222.2" x2="386.46" y2="220.79999999999998" stroke="#000" stroke-width="0.8"/>
<line x1="393.67" y1="222.2" x2="393.67" y2="220.79999999999998" stroke="#000" stroke-width="0.8"/>
<line x1="400.88" y1="222.2" x2="400.88" y2="220.79999999999998" stroke="#000" stroke-width="0.8"/>
<line x1="408.09" y1="222.2" x2="408.09" y2="220.79999999999998" stroke="#000" stroke-width="0.8"/>
<line x1="415.31" y1="222.2" x2="415.31" y2="220.79999999999998" stroke="#000" stroke-width="0.8"/>
<line x1="422.52" y1="222.2" x2="422.52" y2="220.79999999999998" stroke="#000" stroke-width="0.8"/>
<line x1="429.73" y1="222.2" x2="429.73" y2="220.79999999999998" stroke="#000" stroke-width="0.8"/>
<line x1="436.94" y1="222.2" x2="436.94" y2="220.79999999999998" stroke="#000" stroke-width="0.8"/>
<line x1="444.15" y1="222.2" x2="444.15" y2="220.79999999999998" stroke="#000" stroke-width="0.8"/>
<line x1="451.36" y1="222.2" x2="451.36" y2="220.79999999999998" stroke="#000" stroke-width="0.8"/>
<line x1="458.57" y1="222.2" x2="458.57" y2="220.79999999999998" stroke="#000" stroke-width="0.8"/>
<line x1="465.78" y1="222.2" x2="465.78" y2="220.79999999999998" stroke="#000" stroke-width="0.8"/>
<line x1="472.99" y1="222.2" x2="472.99" y2="220.79999999999998" stroke="#000" stroke-width="0.8"/>
<rect x="282.40" y="170.30" width="54.00" height="10.60" fill="#fff"/>
<rect x="282.80" y="170.90" width="19.00" height="9.60" fill="#63bd63" stroke="#238c23" stroke-width="0.7"/>
<text transform="translate(303.70,178.80)" text-anchor="start" font-family="Liberation Serif" font-size="8.5" stroke="#000" stroke-width="0.25" fill="#000">Vehicles</text>
<text transform="translate(279.80,171.80)" text-anchor="end" font-family="Liberation Serif" font-size="8.4" stroke="#000" stroke-width="0.25" fill="#000">100</text>
<text transform="translate(279.80,184.90)" text-anchor="end" font-family="Liberation Serif" font-size="8.4" stroke="#000" stroke-width="0.25" fill="#000">75</text>
<text transform="translate(279.80,198.00)" text-anchor="end" font-family="Liberation Serif" font-size="8.4" stroke="#000" stroke-width="0.25" fill="#000">50</text>
<text transform="translate(279.80,211.10)" text-anchor="end" font-family="Liberation Serif" font-size="8.4" stroke="#000" stroke-width="0.25" fill="#000">25</text>
<rect x="281.9" y="169.80" width="194.70000000000005" height="52.40" fill="none" stroke="#000" stroke-width="1"/>
<text transform="translate(279.80,224.20)" text-anchor="end" font-family="Liberation Serif" font-size="8.4" stroke="#000" stroke-width="0.25" fill="#000">0</text>
<text transform="translate(288.51,224.00) rotate(-90) scale(0.850,1)" text-anchor="end" font-family="Liberation Serif" font-size="9.2" stroke="#000" stroke-width="0.25" fill="#000">PM2.5</text>
<text transform="translate(295.72,224.00) rotate(-90) scale(0.850,1)" text-anchor="end" font-family="Liberation Serif" font-size="9.2" stroke="#000" stroke-width="0.25" fill="#000">OC</text>
<text transform="translate(302.93,224.00) rotate(-90) scale(0.850,1)" text-anchor="end" font-family="Liberation Serif" font-size="9.2" stroke="#000" stroke-width="0.25" fill="#000">EC</text>
<text transform="translate(310.14,224.00) rotate(-90) scale(0.850,1)" text-anchor="end" font-family="Liberation Serif" font-size="9.2" stroke="#000" stroke-width="0.25" fill="#000">SO4</text>
<text transform="translate(317.35,224.00) rotate(-90) scale(0.850,1)" text-anchor="end" font-family="Liberation Serif" font-size="9.2" stroke="#000" stroke-width="0.25" fill="#000">Cl</text>
<text transform="translate(324.56,224.00) rotate(-90) scale(0.850,1)" text-anchor="end" font-family="Liberation Serif" font-size="9.2" stroke="#000" stroke-width="0.25" fill="#000">C2O4</text>
<text transform="translate(331.77,224.00) rotate(-90) scale(0.850,1)" text-anchor="end" font-family="Liberation Serif" font-size="9.2" stroke="#000" stroke-width="0.25" fill="#000">NH4</text>
<text transform="translate(338.98,224.00) rotate(-90) scale(0.850,1)" text-anchor="end" font-family="Liberation Serif" font-size="9.2" stroke="#000" stroke-width="0.25" fill="#000">Na</text>
<text transform="translate(346.19,224.00) rotate(-90) scale(0.850,1)" text-anchor="end" font-family="Liberation Serif" font-size="9.2" stroke="#000" stroke-width="0.25" fill="#000">K</text>
<text transform="translate(353.41,224.00) rotate(-90) scale(0.850,1)" text-anchor="end" font-family="Liberation Serif" font-size="9.2" stroke="#000" stroke-width="0.25" fill="#000">Mg</text>
<text transform="translate(360.62,224.00) rotate(-90) scale(0.850,1)" text-anchor="end" font-family="Liberation Serif" font-size="9.2" stroke="#000" stroke-width="0.25" fill="#000">Ca</text>
<text transform="translate(367.83,224.00) rotate(-90) scale(0.850,1)" text-anchor="end" font-family="Liberation Serif" font-size="9.2" stroke="#000" stroke-width="0.25" fill="#000">Al</text>
<text transform="translate(375.04,224.00) rotate(-90) scale(0.850,1)" text-anchor="end" font-family="Liberation Serif" font-size="9.2" stroke="#000" stroke-width="0.25" fill="#000">Ti</text>
<text transform="translate(382.25,224.00) rotate(-90) scale(0.850,1)" text-anchor="end" font-family="Liberation Serif" font-size="9.2" stroke="#000" stroke-width="0.25" fill="#000">V</text>
<text transform="translate(389.46,224.00) rotate(-90) scale(0.850,1)" text-anchor="end" font-family="Liberation Serif" font-size="9.2" stroke="#000" stroke-width="0.25" fill="#000">Cr</text>
<text transform="translate(396.67,224.00) rotate(-90) scale(0.850,1)" text-anchor="end" font-family="Liberation Serif" font-size="9.2" stroke="#000" stroke-width="0.25" fill="#000">Mn</text>
<text transform="translate(403.88,224.00) rotate(-90) scale(0.850,1)" text-anchor="end" font-family="Liberation Serif" font-size="9.2" stroke="#000" stroke-width="0.25" fill="#000">Fe</text>
<text transform="translate(411.09,224.00) rotate(-90) scale(0.850,1)" text-anchor="end" font-family="Liberation Serif" font-size="9.2" stroke="#000" stroke-width="0.25" fill="#000">Ni</text>
<text transform="translate(418.31,224.00) rotate(-90) scale(0.850,1)" text-anchor="end" font-family="Liberation Serif" font-size="9.2" stroke="#000" stroke-width="0.25" fill="#000">Cu</text>
<text transform="translate(425.52,224.00) rotate(-90) scale(0.850,1)" text-anchor="end" font-family="Liberation Serif" font-size="9.2" stroke="#000" stroke-width="0.25" fill="#000">Zn</text>
<text transform="translate(432.73,224.00) rotate(-90) scale(0.850,1)" text-anchor="end" font-family="Liberation Serif" font-size="9.2" stroke="#000" stroke-width="0.25" fill="#000">Se</text>
<text transform="translate(439.94,224.00) rotate(-90) scale(0.850,1)" text-anchor="end" font-family="Liberation Serif" font-size="9.2" stroke="#000" stroke-width="0.25" fill="#000">Sr</text>
<text transform="translate(447.15,224.00) rotate(-90) scale(0.850,1)" text-anchor="end" font-family="Liberation Serif" font-size="9.2" stroke="#000" stroke-width="0.25" fill="#000">Ba</text>
<text transform="translate(454.36,224.00) rotate(-90) scale(0.850,1)" text-anchor="end" font-family="Liberation Serif" font-size="9.2" stroke="#000" stroke-width="0.25" fill="#000">La</text>
<text transform="translate(461.57,224.00) rotate(-90) scale(0.850,1)" text-anchor="end" font-family="Liberation Serif" font-size="9.2" stroke="#000" stroke-width="0.25" fill="#000">Ce</text>
<text transform="translate(468.78,224.00) rotate(-90) scale(0.850,1)" text-anchor="end" font-family="Liberation Serif" font-size="9.2" stroke="#000" stroke-width="0.25" fill="#000">Pb</text>
<text transform="translate(475.99,224.00) rotate(-90) scale(0.850,1)" text-anchor="end" font-family="Liberation Serif" font-size="9.2" stroke="#000" stroke-width="0.25" fill="#000">Levo</text>
<text transform="translate(378.00,243.00)" text-anchor="middle" font-family="Liberation Serif" font-size="8" stroke="#000" stroke-width="0.25" fill="#000">Species</text>
<text transform="translate(266.20,113.20) rotate(-90)" text-anchor="middle" font-family="Liberation Serif" font-size="8.4" stroke="#000" stroke-width="0.25" fill="#000">Percentage</text>
<path d="M46.20,385.70 C47.62,384.13 58.22,373.03 60.40,370.00 C62.58,366.97 66.52,358.55 68.00,355.40 C69.48,352.25 74.10,341.04 75.20,338.50 C76.30,335.96 78.25,331.69 79.00,330.00 C79.75,328.31 81.57,324.61 82.70,321.60 C83.83,318.59 88.97,303.30 90.30,299.90 C91.63,296.50 94.87,289.20 96.00,287.60 C97.13,286.00 100.47,283.99 101.60,283.90 C102.73,283.81 105.98,285.10 107.30,286.70 C108.62,288.30 113.27,297.07 114.80,299.90 C116.33,302.73 121.06,311.84 122.60,315.00 C124.14,318.16 128.61,328.33 130.20,331.50 C131.79,334.67 137.14,344.52 138.50,346.70 C139.86,348.88 142.51,351.50 143.80,353.30 C145.09,355.10 149.69,362.42 151.40,364.70 C153.11,366.98 159.00,374.01 160.90,376.10 C162.80,378.19 168.31,383.41 170.40,385.60 C172.49,387.79 180.28,396.48 181.80,398.00 C183.32,399.52 184.46,399.57 185.60,400.80 C186.74,402.03 191.49,408.49 193.20,410.30 C194.91,412.11 200.42,417.47 202.70,418.90 C204.98,420.33 212.97,423.93 216.00,424.60 C219.03,425.27 231.30,425.50 233.00,425.60 L234,425.8 L190.00,425.80 C189.37,425.68 185.28,425.10 183.70,424.60 C182.12,424.10 175.63,421.29 174.20,420.80 C172.77,420.31 170.54,420.27 169.40,419.70 C168.26,419.13 163.82,415.69 162.80,415.10 C161.78,414.51 160.34,414.47 159.20,413.80 C158.06,413.13 152.58,409.08 151.40,408.40 C150.22,407.72 148.54,407.55 147.40,407.00 C146.26,406.45 141.02,403.33 140.00,402.90 C138.98,402.47 138.84,402.79 137.20,402.70 C135.56,402.61 125.79,402.14 123.60,402.00 C121.41,401.86 117.34,401.21 115.30,401.30 C113.26,401.39 105.61,402.50 103.20,402.90 C100.79,403.30 94.01,404.06 91.20,405.30 C88.39,406.54 77.71,413.25 75.10,415.30 C72.49,417.35 66.10,424.75 65.10,425.80 L46.2,425.8 Z" fill="rgb(247,178,217)"/>
<path d="M46.20,360.80 C46.68,360.02 49.99,354.58 51.00,353.00 C52.01,351.42 55.21,346.75 56.30,345.00 C57.39,343.25 60.77,337.27 61.90,335.50 C63.03,333.73 65.89,329.92 67.60,327.30 C69.31,324.68 76.92,312.70 79.00,309.30 C81.08,305.90 87.00,295.53 88.40,293.30 C89.80,291.07 92.14,287.97 93.00,287.00 C93.86,286.03 96.14,284.08 97.00,283.60 C97.86,283.12 100.80,282.23 101.60,282.20 C102.40,282.17 104.31,282.92 105.00,283.30 C105.69,283.68 107.52,284.81 108.50,286.00 C109.48,287.19 113.65,293.30 114.80,295.20 C115.95,297.10 118.84,302.97 120.00,305.00 C121.16,307.03 125.25,313.23 126.40,315.50 C127.55,317.77 130.64,325.55 131.50,327.70 C132.36,329.85 134.21,335.21 135.00,337.00 C135.79,338.79 138.62,343.95 139.40,345.60 C140.18,347.25 142.27,352.31 142.80,353.50 C143.33,354.69 144.03,355.65 144.70,357.50 C145.37,359.35 148.07,368.52 149.50,372.00 C150.93,375.48 157.10,388.85 159.00,392.30 C160.90,395.75 166.60,404.13 168.50,406.50 C170.40,408.87 175.91,414.28 178.00,416.00 C180.09,417.72 187.12,422.74 189.40,423.70 C191.68,424.66 198.24,425.39 200.80,425.60 C203.36,425.81 213.58,425.78 215.00,425.80 L215,425.8 L189.40,425.60 C188.26,425.41 181.04,424.36 178.00,423.70 C174.96,423.04 162.23,419.77 159.00,419.00 C155.77,418.23 147.22,415.80 145.70,416.00 C144.18,416.20 144.14,421.05 143.80,421.00 C143.46,420.95 142.68,416.19 142.30,415.50 C141.92,414.81 141.53,414.78 140.00,414.10 C138.47,413.42 129.49,409.84 127.00,408.70 C124.51,407.56 116.80,403.38 115.10,402.70 C113.40,402.02 111.19,401.94 110.00,401.90 C108.81,401.86 105.47,401.89 103.20,402.30 C100.93,402.71 90.42,404.73 87.30,406.00 C84.18,407.27 74.23,413.60 72.00,415.00 C69.77,416.40 66.19,418.92 65.00,420.00 C63.81,421.08 60.59,425.22 60.10,425.80 L46.2,425.8 Z" fill="rgb(194,196,250)" fill-opacity="0.56"/>
<path d="M46.20,360.80 C46.68,360.02 49.99,354.58 51.00,353.00 C52.01,351.42 55.21,346.75 56.30,345.00 C57.39,343.25 60.77,337.27 61.90,335.50 C63.03,333.73 65.89,329.92 67.60,327.30 C69.31,324.68 76.92,312.70 79.00,309.30 C81.08,305.90 87.00,295.53 88.40,293.30 C89.80,291.07 92.14,287.97 93.00,287.00 C93.86,286.03 96.14,284.08 97.00,283.60 C97.86,283.12 100.80,282.23 101.60,282.20 C102.40,282.17 104.31,282.92 105.00,283.30 C105.69,283.68 107.52,284.81 108.50,286.00 C109.48,287.19 113.65,293.30 114.80,295.20 C115.95,297.10 118.84,302.97 120.00,305.00 C121.16,307.03 125.25,313.23 126.40,315.50 C127.55,317.77 130.64,325.55 131.50,327.70 C132.36,329.85 134.21,335.21 135.00,337.00 C135.79,338.79 138.62,343.95 139.40,345.60 C140.18,347.25 142.27,352.31 142.80,353.50 C143.33,354.69 144.03,355.65 144.70,357.50 C145.37,359.35 148.07,368.52 149.50,372.00 C150.93,375.48 157.10,388.85 159.00,392.30 C160.90,395.75 166.60,404.13 168.50,406.50 C170.40,408.87 175.91,414.28 178.00,416.00 C180.09,417.72 187.12,422.74 189.40,423.70 C191.68,424.66 198.24,425.39 200.80,425.60 C203.36,425.81 213.58,425.78 215.00,425.80" fill="none" stroke="#6f86ee" stroke-width="0.8"/>
<path d="M60.10,425.80 C60.59,425.22 63.81,421.08 65.00,420.00 C66.19,418.92 69.77,416.40 72.00,415.00 C74.23,413.60 84.18,407.27 87.30,406.00 C90.42,404.73 100.93,402.71 103.20,402.30 C105.47,401.89 108.81,401.86 110.00,401.90 C111.19,401.94 113.40,402.02 115.10,402.70 C116.80,403.38 124.51,407.56 127.00,408.70 C129.49,409.84 138.47,413.42 140.00,414.10 C141.53,414.78 141.92,414.81 142.30,415.50 C142.68,416.19 143.46,420.95 143.80,421.00 C144.14,421.05 144.18,416.20 145.70,416.00 C147.22,415.80 155.77,418.23 159.00,419.00 C162.23,419.77 174.96,423.04 178.00,423.70 C181.04,424.36 188.26,425.41 189.40,425.60" fill="none" stroke="#6f86ee" stroke-width="0.8"/>
<path d="M46.20,408.50 C47.77,406.98 58.64,396.93 61.90,393.30 C65.16,389.67 76.43,375.49 78.80,372.20 C81.17,368.91 84.48,362.37 85.60,360.40 C86.72,358.43 89.06,353.76 90.00,352.50 C90.94,351.24 93.97,348.60 95.00,347.80 C96.03,347.00 99.24,344.88 100.30,344.50 C101.36,344.12 104.54,343.68 105.60,344.00 C106.66,344.32 109.85,346.80 110.90,347.70 C111.95,348.60 114.94,351.84 116.10,353.00 C117.26,354.16 121.12,357.98 122.50,359.30 C123.88,360.62 128.42,364.98 129.90,366.20 C131.38,367.42 135.79,370.29 137.30,371.50 C138.81,372.71 143.78,377.17 145.00,378.30 C146.22,379.43 148.10,381.40 149.50,382.80 C150.90,384.20 157.10,390.59 159.00,392.30 C160.90,394.01 166.60,398.38 168.50,399.90 C170.40,401.42 176.57,406.27 178.00,407.50 C179.43,408.73 182.13,411.82 182.80,412.20 C183.47,412.58 183.66,410.82 184.70,411.30 C185.74,411.78 191.40,415.96 193.20,417.00 C195.00,418.04 200.80,420.94 202.70,421.70 C204.60,422.46 210.49,424.21 212.20,424.60 C213.91,424.99 217.62,425.49 219.80,425.60 C221.98,425.71 232.58,425.69 234.00,425.70" fill="none" stroke="#a02a72" stroke-width="1.0"/>
<path d="M46.20,398.40 C47.77,396.54 58.64,383.60 61.90,379.80 C65.16,376.00 75.93,363.61 78.80,360.40 C81.67,357.19 88.98,349.29 90.60,347.70 C92.22,346.11 94.03,344.98 95.00,344.50 C95.97,344.02 99.24,343.06 100.30,342.90 C101.36,342.74 104.54,342.53 105.60,342.90 C106.66,343.27 109.32,345.17 110.90,346.60 C112.48,348.03 119.50,355.29 121.40,357.20 C123.30,359.11 128.31,363.80 129.90,365.70 C131.49,367.60 136.14,374.37 137.30,376.20 C138.46,378.03 140.28,381.92 141.50,384.00 C142.72,386.08 147.75,394.65 149.50,397.00 C151.25,399.35 157.10,405.60 159.00,407.50 C160.90,409.40 166.60,414.67 168.50,416.00 C170.40,417.33 176.10,420.03 178.00,420.80 C179.90,421.57 185.60,423.28 187.50,423.70 C189.40,424.12 194.53,424.81 197.00,425.00 C199.47,425.19 209.40,425.53 212.20,425.60 C215.00,425.67 223.72,425.69 225.00,425.70" fill="none" stroke="#1a2aa8" stroke-width="1.05"/>
<line x1="46.2" y1="266" x2="46.2" y2="425.8" stroke="#000" stroke-width="1"/>
<line x1="43.8" y1="425.8" x2="235" y2="425.8" stroke="#000" stroke-width="1"/>
<line x1="43.2" y1="425.80" x2="46.2" y2="425.80" stroke="#000" stroke-width="0.8"/>
<text transform="translate(40.80,427.40)" text-anchor="end" font-family="Liberation Serif" font-size="7.0" fill="#000">0</text>
<line x1="44.7" y1="417.04" x2="46.2" y2="417.04" stroke="#000" stroke-width="0.8"/>
<line x1="43.2" y1="408.27" x2="46.2" y2="408.27" stroke="#000" stroke-width="0.8"/>
<text transform="translate(40.80,409.87)" text-anchor="end" font-family="Liberation Serif" font-size="7.0" fill="#000">2000</text>
<line x1="44.7" y1="399.50" x2="46.2" y2="399.50" stroke="#000" stroke-width="0.8"/>
<line x1="43.2" y1="390.74" x2="46.2" y2="390.74" stroke="#000" stroke-width="0.8"/>
<text transform="translate(40.80,392.34)" text-anchor="end" font-family="Liberation Serif" font-size="7.0" fill="#000">4000</text>
<line x1="44.7" y1="381.98" x2="46.2" y2="381.98" stroke="#000" stroke-width="0.8"/>
<line x1="43.2" y1="373.21" x2="46.2" y2="373.21" stroke="#000" stroke-width="0.8"/>
<text transform="translate(40.80,374.81)" text-anchor="end" font-family="Liberation Serif" font-size="7.0" fill="#000">6000</text>
<line x1="44.7" y1="364.44" x2="46.2" y2="364.44" stroke="#000" stroke-width="0.8"/>
<line x1="43.2" y1="355.68" x2="46.2" y2="355.68" stroke="#000" stroke-width="0.8"/>
<text transform="translate(40.80,357.28)" text-anchor="end" font-family="Liberation Serif" font-size="7.0" fill="#000">8000</text>
<line x1="44.7" y1="346.92" x2="46.2" y2="346.92" stroke="#000" stroke-width="0.8"/>
<line x1="43.2" y1="338.15" x2="46.2" y2="338.15" stroke="#000" stroke-width="0.8"/>
<text transform="translate(40.80,339.75)" text-anchor="end" font-family="Liberation Serif" font-size="7.0" fill="#000">10000</text>
<line x1="44.7" y1="329.38" x2="46.2" y2="329.38" stroke="#000" stroke-width="0.8"/>
<line x1="43.2" y1="320.62" x2="46.2" y2="320.62" stroke="#000" stroke-width="0.8"/>
<text transform="translate(40.80,322.22)" text-anchor="end" font-family="Liberation Serif" font-size="7.0" fill="#000">12000</text>
<line x1="44.7" y1="311.86" x2="46.2" y2="311.86" stroke="#000" stroke-width="0.8"/>
<line x1="43.2" y1="303.09" x2="46.2" y2="303.09" stroke="#000" stroke-width="0.8"/>
<text transform="translate(40.80,304.69)" text-anchor="end" font-family="Liberation Serif" font-size="7.0" fill="#000">14000</text>
<line x1="44.7" y1="294.32" x2="46.2" y2="294.32" stroke="#000" stroke-width="0.8"/>
<line x1="43.2" y1="285.56" x2="46.2" y2="285.56" stroke="#000" stroke-width="0.8"/>
<text transform="translate(40.80,287.16)" text-anchor="end" font-family="Liberation Serif" font-size="7.0" fill="#000">16000</text>
<line x1="44.7" y1="276.80" x2="46.2" y2="276.80" stroke="#000" stroke-width="0.8"/>
<line x1="43.2" y1="268.03" x2="46.2" y2="268.03" stroke="#000" stroke-width="0.8"/>
<text transform="translate(40.80,269.63)" text-anchor="end" font-family="Liberation Serif" font-size="7.0" fill="#000">18000</text>
<line x1="61.39" y1="425.8" x2="61.39" y2="427.6" stroke="#000" stroke-width="0.8"/>
<line x1="78.88" y1="425.8" x2="78.88" y2="427.6" stroke="#000" stroke-width="0.8"/>
<line x1="91.28" y1="425.8" x2="91.28" y2="427.6" stroke="#000" stroke-width="0.8"/>
<line x1="100.91" y1="425.8" x2="100.91" y2="427.6" stroke="#000" stroke-width="0.8"/>
<line x1="108.77" y1="425.8" x2="108.77" y2="427.6" stroke="#000" stroke-width="0.8"/>
<line x1="115.42" y1="425.8" x2="115.42" y2="427.6" stroke="#000" stroke-width="0.8"/>
<line x1="121.18" y1="425.8" x2="121.18" y2="427.6" stroke="#000" stroke-width="0.8"/>
<line x1="126.26" y1="425.8" x2="126.26" y2="427.6" stroke="#000" stroke-width="0.8"/>
<line x1="130.80" y1="425.8" x2="130.80" y2="428.3" stroke="#000" stroke-width="0.8"/>
<line x1="160.69" y1="425.8" x2="160.69" y2="427.6" stroke="#000" stroke-width="0.8"/>
<line x1="178.18" y1="425.8" x2="178.18" y2="427.6" stroke="#000" stroke-width="0.8"/>
<line x1="190.58" y1="425.8" x2="190.58" y2="427.6" stroke="#000" stroke-width="0.8"/>
<line x1="200.21" y1="425.8" x2="200.21" y2="427.6" stroke="#000" stroke-width="0.8"/>
<line x1="208.07" y1="425.8" x2="208.07" y2="427.6" stroke="#000" stroke-width="0.8"/>
<line x1="214.72" y1="425.8" x2="214.72" y2="427.6" stroke="#000" stroke-width="0.8"/>
<line x1="220.48" y1="425.8" x2="220.48" y2="427.6" stroke="#000" stroke-width="0.8"/>
<line x1="225.56" y1="425.8" x2="225.56" y2="427.6" stroke="#000" stroke-width="0.8"/>
<line x1="230.10" y1="425.8" x2="230.10" y2="428.3" stroke="#000" stroke-width="0.8"/>
<text transform="translate(61.39,437.30)" text-anchor="middle" font-family="Liberation Serif" font-size="7.0" stroke="#000" stroke-width="0.05" fill="#000">20</text>
<text transform="translate(78.88,437.30)" text-anchor="middle" font-family="Liberation Serif" font-size="7.0" stroke="#000" stroke-width="0.05" fill="#000">30</text>
<text transform="translate(100.91,437.30)" text-anchor="middle" font-family="Liberation Serif" font-size="7.0" stroke="#000" stroke-width="0.05" fill="#000">50</text>
<text transform="translate(115.42,437.30)" text-anchor="middle" font-family="Liberation Serif" font-size="7.0" stroke="#000" stroke-width="0.05" fill="#000">70</text>
<text transform="translate(130.80,437.30)" text-anchor="middle" font-family="Liberation Serif" font-size="7.0" stroke="#000" stroke-width="0.05" fill="#000">100</text>
<text transform="translate(160.69,437.30)" text-anchor="middle" font-family="Liberation Serif" font-size="7.0" stroke="#000" stroke-width="0.05" fill="#000">200</text>
<text transform="translate(178.18,437.30)" text-anchor="middle" font-family="Liberation Serif" font-size="7.0" stroke="#000" stroke-width="0.05" fill="#000">300</text>
<text transform="translate(200.21,437.30)" text-anchor="middle" font-family="Liberation Serif" font-size="7.0" stroke="#000" stroke-width="0.05" fill="#000">500</text>
<text transform="translate(223.50,437.30)" text-anchor="middle" font-family="Liberation Serif" font-size="7.0" stroke="#000" stroke-width="0.05" fill="#000">7001000</text>
<text transform="translate(139.80,452.30)" text-anchor="middle" font-family="Liberation Sans" font-size="7.8" stroke="#000" stroke-width="0.15" fill="#000">Size (nm)</text>
<text transform="translate(15.6,340.5) rotate(-90) scale(0.9,1)" text-anchor="middle" font-family="Liberation Serif" font-size="10" stroke="#000" stroke-width="0.2">dN/dlogD<tspan font-size="6" dy="2.6">p</tspan><tspan dy="-2.6"> (cm</tspan><tspan font-size="6" dy="-3.4">-3</tspan><tspan dy="3.4">)</tspan></text>
<line x1="54" y1="269.3" x2="72.8" y2="269.3" stroke="#a02a72" stroke-width="1.2"/>
<text x="76.2" y="271.8" font-family="Liberation Sans" font-size="7.6" letter-spacing="0.35" stroke="#000" stroke-width="0.12">Smoke</text>
<line x1="104.5" y1="269.3" x2="123.8" y2="269.3" stroke="#1f3fc0" stroke-width="1.2"/>
<text x="126.7" y="271.8" font-family="Liberation Sans" font-size="7.6" letter-spacing="0.35" stroke="#000" stroke-width="0.12">Urban</text>
<rect x="283.54" y="424.99" width="1.6" height="5.21" fill="#f2a9aa" stroke="#b83a3a" stroke-width="0.55"/>
<rect x="285.56" y="423.88" width="1.6" height="6.32" fill="#f2a9aa" stroke="#b83a3a" stroke-width="0.55"/>
<rect x="287.58" y="419.61" width="1.6" height="10.59" fill="#f2a9aa" stroke="#b83a3a" stroke-width="0.55"/>
<rect x="299.70" y="422.77" width="1.6" height="7.43" fill="#f2a9aa" stroke="#b83a3a" stroke-width="0.55"/>
<rect x="301.72" y="422.54" width="1.6" height="7.66" fill="#f2a9aa" stroke="#b83a3a" stroke-width="0.55"/>
<rect x="311.82" y="425.62" width="1.6" height="4.58" fill="#f2a9aa" stroke="#b83a3a" stroke-width="0.55"/>
<rect x="313.84" y="425.62" width="1.6" height="4.58" fill="#f2a9aa" stroke="#b83a3a" stroke-width="0.55"/>
<rect x="317.88" y="427.51" width="1.6" height="2.69" fill="#f2a9aa" stroke="#b83a3a" stroke-width="0.55"/>
<rect x="321.92" y="428.62" width="1.6" height="1.58" fill="#f2a9aa" stroke="#b83a3a" stroke-width="0.55"/>
<rect x="325.96" y="425.62" width="1.6" height="4.58" fill="#f2a9aa" stroke="#b83a3a" stroke-width="0.55"/>
<rect x="332.02" y="423.88" width="1.6" height="6.32" fill="#f2a9aa" stroke="#b83a3a" stroke-width="0.55"/>
<rect x="338.08" y="418.67" width="1.6" height="11.53" fill="#f2a9aa" stroke="#b83a3a" stroke-width="0.55"/>
<rect x="340.10" y="421.19" width="1.6" height="9.01" fill="#f2a9aa" stroke="#b83a3a" stroke-width="0.55"/>
<rect x="346.16" y="419.69" width="1.6" height="10.51" fill="#f2a9aa" stroke="#b83a3a" stroke-width="0.55"/>
<rect x="348.18" y="410.06" width="1.6" height="20.14" fill="#f2a9aa" stroke="#b83a3a" stroke-width="0.55"/>
<rect x="350.20" y="420.72" width="1.6" height="9.48" fill="#f2a9aa" stroke="#b83a3a" stroke-width="0.55"/>
<rect x="356.26" y="416.77" width="1.6" height="13.43" fill="#f2a9aa" stroke="#b83a3a" stroke-width="0.55"/>
<rect x="360.30" y="424.27" width="1.6" height="5.93" fill="#f2a9aa" stroke="#b83a3a" stroke-width="0.55"/>
<rect x="362.32" y="420.72" width="1.6" height="9.48" fill="#f2a9aa" stroke="#b83a3a" stroke-width="0.55"/>
<rect x="364.34" y="410.92" width="1.6" height="19.28" fill="#f2a9aa" stroke="#b83a3a" stroke-width="0.55"/>
<rect x="366.36" y="410.45" width="1.6" height="19.75" fill="#f2a9aa" stroke="#b83a3a" stroke-width="0.55"/>
<rect x="368.38" y="404.76" width="1.6" height="25.44" fill="#f2a9aa" stroke="#b83a3a" stroke-width="0.55"/>
<rect x="370.40" y="419.69" width="1.6" height="10.51" fill="#f2a9aa" stroke="#b83a3a" stroke-width="0.55"/>
<rect x="372.42" y="417.56" width="1.6" height="12.64" fill="#f2a9aa" stroke="#b83a3a" stroke-width="0.55"/>
<rect x="374.44" y="372.53" width="1.6" height="57.67" fill="#f2a9aa" stroke="#b83a3a" stroke-width="0.55"/>
<rect x="376.46" y="354.52" width="1.6" height="75.68" fill="#f2a9aa" stroke="#b83a3a" stroke-width="0.55"/>
<rect x="378.48" y="415.98" width="1.6" height="14.22" fill="#f2a9aa" stroke="#b83a3a" stroke-width="0.55"/>
<rect x="380.50" y="400.97" width="1.6" height="29.23" fill="#f2a9aa" stroke="#b83a3a" stroke-width="0.55"/>
<rect x="382.52" y="419.93" width="1.6" height="10.27" fill="#f2a9aa" stroke="#b83a3a" stroke-width="0.55"/>
<rect x="384.54" y="413.61" width="1.6" height="16.59" fill="#f2a9aa" stroke="#b83a3a" stroke-width="0.55"/>
<rect x="386.56" y="417.95" width="1.6" height="12.25" fill="#f2a9aa" stroke="#b83a3a" stroke-width="0.55"/>
<rect x="388.58" y="380.43" width="1.6" height="49.77" fill="#f2a9aa" stroke="#b83a3a" stroke-width="0.55"/>
<rect x="390.60" y="414.40" width="1.6" height="15.80" fill="#f2a9aa" stroke="#b83a3a" stroke-width="0.55"/>
<rect x="392.62" y="414.79" width="1.6" height="15.41" fill="#f2a9aa" stroke="#b83a3a" stroke-width="0.55"/>
<rect x="394.64" y="415.19" width="1.6" height="15.01" fill="#f2a9aa" stroke="#b83a3a" stroke-width="0.55"/>
<rect x="396.66" y="425.46" width="1.6" height="4.74" fill="#f2a9aa" stroke="#b83a3a" stroke-width="0.55"/>
<rect x="398.68" y="329.08" width="1.6" height="101.12" fill="#f2a9aa" stroke="#b83a3a" stroke-width="0.55"/>
<rect x="400.70" y="295.11" width="1.6" height="135.09" fill="#f2a9aa" stroke="#b83a3a" stroke-width="0.55"/>
<rect x="402.72" y="409.90" width="1.6" height="20.30" fill="#f2a9aa" stroke="#b83a3a" stroke-width="0.55"/>
<rect x="404.74" y="399.71" width="1.6" height="30.49" fill="#f2a9aa" stroke="#b83a3a" stroke-width="0.55"/>
<rect x="406.76" y="347.49" width="1.6" height="82.71" fill="#f2a9aa" stroke="#b83a3a" stroke-width="0.55"/>
<rect x="408.78" y="356.73" width="1.6" height="73.47" fill="#f2a9aa" stroke="#b83a3a" stroke-width="0.55"/>
<rect x="410.80" y="365.42" width="1.6" height="64.78" fill="#f2a9aa" stroke="#b83a3a" stroke-width="0.55"/>
<rect x="412.82" y="323.55" width="1.6" height="106.65" fill="#f2a9aa" stroke="#b83a3a" stroke-width="0.55"/>
<rect x="414.84" y="366.21" width="1.6" height="63.99" fill="#f2a9aa" stroke="#b83a3a" stroke-width="0.55"/>
<rect x="416.86" y="361.47" width="1.6" height="68.73" fill="#f2a9aa" stroke="#b83a3a" stroke-width="0.55"/>
<rect x="418.88" y="400.97" width="1.6" height="29.23" fill="#f2a9aa" stroke="#b83a3a" stroke-width="0.55"/>
<rect x="420.90" y="360.68" width="1.6" height="69.52" fill="#f2a9aa" stroke="#b83a3a" stroke-width="0.55"/>
<rect x="422.92" y="384.70" width="1.6" height="45.50" fill="#f2a9aa" stroke="#b83a3a" stroke-width="0.55"/>
<rect x="424.94" y="405.71" width="1.6" height="24.49" fill="#f2a9aa" stroke="#b83a3a" stroke-width="0.55"/>
<rect x="426.96" y="417.95" width="1.6" height="12.25" fill="#f2a9aa" stroke="#b83a3a" stroke-width="0.55"/>
<rect x="428.98" y="409.19" width="1.6" height="21.01" fill="#f2a9aa" stroke="#b83a3a" stroke-width="0.55"/>
<rect x="431.00" y="412.82" width="1.6" height="17.38" fill="#f2a9aa" stroke="#b83a3a" stroke-width="0.55"/>
<rect x="433.02" y="402.79" width="1.6" height="27.41" fill="#f2a9aa" stroke="#b83a3a" stroke-width="0.55"/>
<rect x="435.04" y="394.65" width="1.6" height="35.55" fill="#f2a9aa" stroke="#b83a3a" stroke-width="0.55"/>
<rect x="437.06" y="383.83" width="1.6" height="46.37" fill="#f2a9aa" stroke="#b83a3a" stroke-width="0.55"/>
<rect x="439.08" y="399.39" width="1.6" height="30.81" fill="#f2a9aa" stroke="#b83a3a" stroke-width="0.55"/>
<rect x="441.10" y="417.09" width="1.6" height="13.11" fill="#f2a9aa" stroke="#b83a3a" stroke-width="0.55"/>
<rect x="443.12" y="392.60" width="1.6" height="37.60" fill="#f2a9aa" stroke="#b83a3a" stroke-width="0.55"/>
<rect x="445.14" y="403.58" width="1.6" height="26.62" fill="#f2a9aa" stroke="#b83a3a" stroke-width="0.55"/>
<rect x="447.16" y="386.75" width="1.6" height="43.45" fill="#f2a9aa" stroke="#b83a3a" stroke-width="0.55"/>
<rect x="449.18" y="362.26" width="1.6" height="67.94" fill="#f2a9aa" stroke="#b83a3a" stroke-width="0.55"/>
<rect x="451.20" y="318.41" width="1.6" height="111.79" fill="#f2a9aa" stroke="#b83a3a" stroke-width="0.55"/>
<rect x="453.22" y="376.48" width="1.6" height="53.72" fill="#f2a9aa" stroke="#b83a3a" stroke-width="0.55"/>
<rect x="455.24" y="405.71" width="1.6" height="24.49" fill="#f2a9aa" stroke="#b83a3a" stroke-width="0.55"/>
<rect x="457.26" y="373.71" width="1.6" height="56.48" fill="#f2a9aa" stroke="#b83a3a" stroke-width="0.55"/>
<rect x="459.28" y="304.91" width="1.6" height="125.29" fill="#f2a9aa" stroke="#b83a3a" stroke-width="0.55"/>
<rect x="461.30" y="372.53" width="1.6" height="57.67" fill="#f2a9aa" stroke="#b83a3a" stroke-width="0.55"/>
<rect x="463.32" y="334.93" width="1.6" height="95.27" fill="#f2a9aa" stroke="#b83a3a" stroke-width="0.55"/>
<rect x="465.34" y="343.30" width="1.6" height="86.90" fill="#f2a9aa" stroke="#b83a3a" stroke-width="0.55"/>
<rect x="467.36" y="405.71" width="1.6" height="24.49" fill="#f2a9aa" stroke="#b83a3a" stroke-width="0.55"/>
<rect x="469.38" y="412.82" width="1.6" height="17.38" fill="#f2a9aa" stroke="#b83a3a" stroke-width="0.55"/>
<rect x="481.50" y="425.62" width="1.6" height="4.58" fill="#f2a9aa" stroke="#b83a3a" stroke-width="0.55"/>
<rect x="495.64" y="426.80" width="1.6" height="3.40" fill="#f2a9aa" stroke="#b83a3a" stroke-width="0.55"/>
<rect x="507.76" y="425.46" width="1.6" height="4.74" fill="#f2a9aa" stroke="#b83a3a" stroke-width="0.55"/>
<rect x="289.30" y="424.43" width="2.02" height="5.77" fill="rgb(96,186,244)" fill-opacity="0.72"/>
<rect x="291.32" y="422.77" width="2.02" height="7.43" fill="rgb(96,186,244)" fill-opacity="0.72"/>
<rect x="293.34" y="421.90" width="2.02" height="8.29" fill="rgb(96,186,244)" fill-opacity="0.72"/>
<rect x="295.36" y="421.90" width="2.02" height="8.29" fill="rgb(96,186,244)" fill-opacity="0.72"/>
<rect x="305.46" y="422.30" width="2.02" height="7.90" fill="rgb(96,186,244)" fill-opacity="0.72"/>
<rect x="307.48" y="421.67" width="2.02" height="8.53" fill="rgb(96,186,244)" fill-opacity="0.72"/>
<rect x="313.54" y="427.36" width="2.02" height="2.84" fill="rgb(96,186,244)" fill-opacity="0.72"/>
<rect x="315.56" y="427.99" width="2.02" height="2.21" fill="rgb(96,186,244)" fill-opacity="0.72"/>
<rect x="319.60" y="422.77" width="2.02" height="7.43" fill="rgb(96,186,244)" fill-opacity="0.72"/>
<rect x="329.70" y="425.85" width="2.02" height="4.35" fill="rgb(96,186,244)" fill-opacity="0.72"/>
<rect x="331.72" y="425.85" width="2.02" height="4.35" fill="rgb(96,186,244)" fill-opacity="0.72"/>
<rect x="335.76" y="424.99" width="2.02" height="5.21" fill="rgb(96,186,244)" fill-opacity="0.72"/>
<rect x="337.78" y="427.36" width="2.02" height="2.84" fill="rgb(96,186,244)" fill-opacity="0.72"/>
<rect x="339.80" y="421.83" width="2.02" height="8.37" fill="rgb(96,186,244)" fill-opacity="0.72"/>
<rect x="341.82" y="419.14" width="2.02" height="11.06" fill="rgb(96,186,244)" fill-opacity="0.72"/>
<rect x="343.84" y="419.14" width="2.02" height="11.06" fill="rgb(96,186,244)" fill-opacity="0.72"/>
<rect x="345.86" y="425.46" width="2.02" height="4.74" fill="rgb(96,186,244)" fill-opacity="0.72"/>
<rect x="347.88" y="424.27" width="2.02" height="5.93" fill="rgb(96,186,244)" fill-opacity="0.72"/>
<rect x="349.90" y="422.30" width="2.02" height="7.90" fill="rgb(96,186,244)" fill-opacity="0.72"/>
<rect x="351.92" y="422.69" width="2.02" height="7.51" fill="rgb(96,186,244)" fill-opacity="0.72"/>
<rect x="353.94" y="423.41" width="2.02" height="6.79" fill="rgb(96,186,244)" fill-opacity="0.72"/>
<rect x="355.96" y="423.41" width="2.02" height="6.79" fill="rgb(96,186,244)" fill-opacity="0.72"/>
<rect x="360.00" y="424.27" width="2.02" height="5.93" fill="rgb(96,186,244)" fill-opacity="0.72"/>
<rect x="362.02" y="423.41" width="2.02" height="6.79" fill="rgb(96,186,244)" fill-opacity="0.72"/>
<rect x="366.06" y="421.83" width="2.02" height="8.37" fill="rgb(96,186,244)" fill-opacity="0.72"/>
<rect x="368.08" y="420.72" width="2.02" height="9.48" fill="rgb(96,186,244)" fill-opacity="0.72"/>
<rect x="370.10" y="420.72" width="2.02" height="9.48" fill="rgb(96,186,244)" fill-opacity="0.72"/>
<rect x="374.14" y="416.53" width="2.02" height="13.67" fill="rgb(96,186,244)" fill-opacity="0.72"/>
<rect x="376.16" y="416.53" width="2.02" height="13.67" fill="rgb(96,186,244)" fill-opacity="0.72"/>
<rect x="378.18" y="421.27" width="2.02" height="8.93" fill="rgb(96,186,244)" fill-opacity="0.72"/>
<rect x="380.20" y="418.67" width="2.02" height="11.53" fill="rgb(96,186,244)" fill-opacity="0.72"/>
<rect x="382.22" y="418.67" width="2.02" height="11.53" fill="rgb(96,186,244)" fill-opacity="0.72"/>
<rect x="384.24" y="423.41" width="2.02" height="6.79" fill="rgb(96,186,244)" fill-opacity="0.72"/>
<rect x="386.26" y="423.41" width="2.02" height="6.79" fill="rgb(96,186,244)" fill-opacity="0.72"/>
<rect x="388.28" y="419.14" width="2.02" height="11.06" fill="rgb(96,186,244)" fill-opacity="0.72"/>
<rect x="390.30" y="421.83" width="2.02" height="8.37" fill="rgb(96,186,244)" fill-opacity="0.72"/>
<rect x="394.34" y="419.69" width="2.02" height="10.51" fill="rgb(96,186,244)" fill-opacity="0.72"/>
<rect x="396.36" y="419.69" width="2.02" height="10.51" fill="rgb(96,186,244)" fill-opacity="0.72"/>
<rect x="398.38" y="416.53" width="2.02" height="13.67" fill="rgb(96,186,244)" fill-opacity="0.72"/>
<rect x="400.40" y="422.69" width="2.02" height="7.51" fill="rgb(96,186,244)" fill-opacity="0.72"/>
<rect x="402.42" y="422.69" width="2.02" height="7.51" fill="rgb(96,186,244)" fill-opacity="0.72"/>
<rect x="404.44" y="422.54" width="2.02" height="7.66" fill="rgb(96,186,244)" fill-opacity="0.72"/>
<rect x="406.46" y="421.19" width="2.02" height="9.01" fill="rgb(96,186,244)" fill-opacity="0.72"/>
<rect x="408.48" y="415.98" width="2.02" height="14.22" fill="rgb(96,186,244)" fill-opacity="0.72"/>
<rect x="410.50" y="427.83" width="2.02" height="2.37" fill="rgb(96,186,244)" fill-opacity="0.72"/>
<rect x="414.54" y="418.51" width="2.02" height="11.69" fill="rgb(96,186,244)" fill-opacity="0.72"/>
<rect x="416.56" y="422.54" width="2.02" height="7.66" fill="rgb(96,186,244)" fill-opacity="0.72"/>
<rect x="418.58" y="422.54" width="2.02" height="7.66" fill="rgb(96,186,244)" fill-opacity="0.72"/>
<rect x="420.60" y="427.04" width="2.02" height="3.16" fill="rgb(96,186,244)" fill-opacity="0.72"/>
<rect x="422.62" y="424.67" width="2.02" height="5.53" fill="rgb(96,186,244)" fill-opacity="0.72"/>
<rect x="424.64" y="414.64" width="2.02" height="15.56" fill="rgb(96,186,244)" fill-opacity="0.72"/>
<rect x="426.66" y="423.09" width="2.02" height="7.11" fill="rgb(96,186,244)" fill-opacity="0.72"/>
<rect x="428.68" y="423.09" width="2.02" height="7.11" fill="rgb(96,186,244)" fill-opacity="0.72"/>
<rect x="430.70" y="425.78" width="2.02" height="4.42" fill="rgb(96,186,244)" fill-opacity="0.72"/>
<rect x="432.72" y="425.22" width="2.02" height="4.98" fill="rgb(96,186,244)" fill-opacity="0.72"/>
<rect x="434.74" y="421.19" width="2.02" height="9.01" fill="rgb(96,186,244)" fill-opacity="0.72"/>
<rect x="436.76" y="425.78" width="2.02" height="4.42" fill="rgb(96,186,244)" fill-opacity="0.72"/>
<rect x="438.78" y="422.06" width="2.02" height="8.14" fill="rgb(96,186,244)" fill-opacity="0.72"/>
<rect x="440.80" y="419.46" width="2.02" height="10.74" fill="rgb(96,186,244)" fill-opacity="0.72"/>
<rect x="442.82" y="423.88" width="2.02" height="6.32" fill="rgb(96,186,244)" fill-opacity="0.72"/>
<rect x="444.84" y="421.19" width="2.02" height="9.01" fill="rgb(96,186,244)" fill-opacity="0.72"/>
<rect x="446.86" y="425.22" width="2.02" height="4.98" fill="rgb(96,186,244)" fill-opacity="0.72"/>
<rect x="452.92" y="424.67" width="2.02" height="5.53" fill="rgb(96,186,244)" fill-opacity="0.72"/>
<rect x="454.94" y="427.04" width="2.02" height="3.16" fill="rgb(96,186,244)" fill-opacity="0.72"/>
<rect x="456.96" y="423.09" width="2.02" height="7.11" fill="rgb(96,186,244)" fill-opacity="0.72"/>
<rect x="458.98" y="426.41" width="2.02" height="3.79" fill="rgb(96,186,244)" fill-opacity="0.72"/>
<rect x="461.00" y="422.06" width="2.02" height="8.14" fill="rgb(96,186,244)" fill-opacity="0.72"/>
<rect x="463.02" y="422.06" width="2.02" height="8.14" fill="rgb(96,186,244)" fill-opacity="0.72"/>
<rect x="465.04" y="426.41" width="2.02" height="3.79" fill="rgb(96,186,244)" fill-opacity="0.72"/>
<rect x="467.06" y="419.46" width="2.02" height="10.74" fill="rgb(96,186,244)" fill-opacity="0.72"/>
<rect x="469.08" y="423.88" width="2.02" height="6.32" fill="rgb(96,186,244)" fill-opacity="0.72"/>
<rect x="471.10" y="420.17" width="2.02" height="10.03" fill="rgb(96,186,244)" fill-opacity="0.72"/>
<rect x="475.14" y="413.61" width="2.02" height="16.59" fill="rgb(96,186,244)" fill-opacity="0.72"/>
<rect x="477.16" y="411.71" width="2.02" height="18.49" fill="rgb(96,186,244)" fill-opacity="0.72"/>
<rect x="479.18" y="415.98" width="2.02" height="14.22" fill="rgb(96,186,244)" fill-opacity="0.72"/>
<rect x="483.22" y="412.19" width="2.02" height="18.01" fill="rgb(96,186,244)" fill-opacity="0.72"/>
<rect x="485.24" y="414.48" width="2.02" height="15.72" fill="rgb(96,186,244)" fill-opacity="0.72"/>
<rect x="487.26" y="420.72" width="2.02" height="9.48" fill="rgb(96,186,244)" fill-opacity="0.72"/>
<rect x="489.28" y="425.78" width="2.02" height="4.42" fill="rgb(96,186,244)" fill-opacity="0.72"/>
<rect x="491.30" y="427.83" width="2.02" height="2.37" fill="rgb(96,186,244)" fill-opacity="0.72"/>
<rect x="493.32" y="426.80" width="2.02" height="3.40" fill="rgb(96,186,244)" fill-opacity="0.72"/>
<rect x="495.34" y="426.80" width="2.02" height="3.40" fill="rgb(96,186,244)" fill-opacity="0.72"/>
<rect x="499.38" y="425.46" width="2.02" height="4.74" fill="rgb(96,186,244)" fill-opacity="0.72"/>
<rect x="501.40" y="425.78" width="2.02" height="4.42" fill="rgb(96,186,244)" fill-opacity="0.72"/>
<rect x="503.42" y="422.38" width="2.02" height="7.82" fill="rgb(96,186,244)" fill-opacity="0.72"/>
<rect x="505.44" y="426.25" width="2.02" height="3.95" fill="rgb(96,186,244)" fill-opacity="0.72"/>
<rect x="507.46" y="427.83" width="2.02" height="2.37" fill="rgb(96,186,244)" fill-opacity="0.72"/>
<rect x="509.48" y="428.22" width="2.02" height="1.98" fill="rgb(96,186,244)" fill-opacity="0.72"/>
<line x1="345.4" y1="275" x2="345.4" y2="430.2" stroke="#000" stroke-width="1.2"/>
<line x1="473.0" y1="275" x2="473.0" y2="430.2" stroke="#000" stroke-width="1.2"/>
<line x1="347" y1="275.2" x2="385" y2="275.2" stroke="#000" stroke-width="0.8"/>
<line x1="440.5" y1="275.2" x2="471" y2="275.2" stroke="#000" stroke-width="0.8"/>
<polygon points="346.2,275.2 351,273.4 351,277" fill="#000"/>
<polygon points="472,275.2 467.2,273.4 467.2,277" fill="#000"/>
<text transform="translate(412.70,277.80)" text-anchor="middle" font-family="Liberation Serif" font-size="7.5" stroke="#000" stroke-width="0.25" fill="#000">Sustained smoke</text>
<line x1="281.9" y1="270" x2="281.9" y2="430.2" stroke="#000" stroke-width="1.2"/>
<line x1="281.29999999999995" y1="430.2" x2="520.3" y2="430.2" stroke="#000" stroke-width="1.2"/>
<line x1="279.09999999999997" y1="430.20" x2="281.9" y2="430.20" stroke="#000" stroke-width="0.8"/>
<text transform="translate(277.40,431.00)" text-anchor="end" font-family="Liberation Serif" font-size="7.0" stroke="#000" stroke-width="0.02" fill="#000">0</text>
<line x1="280.4" y1="422.30" x2="281.9" y2="422.30" stroke="#000" stroke-width="0.8"/>
<line x1="279.09999999999997" y1="414.40" x2="281.9" y2="414.40" stroke="#000" stroke-width="0.8"/>
<text transform="translate(277.40,415.20)" text-anchor="end" font-family="Liberation Serif" font-size="7.0" stroke="#000" stroke-width="0.02" fill="#000">20</text>
<line x1="280.4" y1="406.50" x2="281.9" y2="406.50" stroke="#000" stroke-width="0.8"/>
<line x1="279.09999999999997" y1="398.60" x2="281.9" y2="398.60" stroke="#000" stroke-width="0.8"/>
<text transform="translate(277.40,399.40)" text-anchor="end" font-family="Liberation Serif" font-size="7.0" stroke="#000" stroke-width="0.02" fill="#000">40</text>
<line x1="280.4" y1="390.70" x2="281.9" y2="390.70" stroke="#000" stroke-width="0.8"/>
<line x1="279.09999999999997" y1="382.80" x2="281.9" y2="382.80" stroke="#000" stroke-width="0.8"/>
<text transform="translate(277.40,383.60)" text-anchor="end" font-family="Liberation Serif" font-size="7.0" stroke="#000" stroke-width="0.02" fill="#000">60</text>
<line x1="280.4" y1="374.90" x2="281.9" y2="374.90" stroke="#000" stroke-width="0.8"/>
<line x1="279.09999999999997" y1="367.00" x2="281.9" y2="367.00" stroke="#000" stroke-width="0.8"/>
<text transform="translate(277.40,367.80)" text-anchor="end" font-family="Liberation Serif" font-size="7.0" stroke="#000" stroke-width="0.02" fill="#000">80</text>
<line x1="280.4" y1="359.10" x2="281.9" y2="359.10" stroke="#000" stroke-width="0.8"/>
<line x1="279.09999999999997" y1="351.20" x2="281.9" y2="351.20" stroke="#000" stroke-width="0.8"/>
<text transform="translate(277.40,352.00)" text-anchor="end" font-family="Liberation Serif" font-size="7.0" stroke="#000" stroke-width="0.02" fill="#000">100</text>
<line x1="280.4" y1="343.30" x2="281.9" y2="343.30" stroke="#000" stroke-width="0.8"/>
<line x1="279.09999999999997" y1="335.40" x2="281.9" y2="335.40" stroke="#000" stroke-width="0.8"/>
<text transform="translate(277.40,336.20)" text-anchor="end" font-family="Liberation Serif" font-size="7.0" stroke="#000" stroke-width="0.02" fill="#000">120</text>
<line x1="280.4" y1="327.50" x2="281.9" y2="327.50" stroke="#000" stroke-width="0.8"/>
<line x1="279.09999999999997" y1="319.60" x2="281.9" y2="319.60" stroke="#000" stroke-width="0.8"/>
<text transform="translate(277.40,320.40)" text-anchor="end" font-family="Liberation Serif" font-size="7.0" stroke="#000" stroke-width="0.02" fill="#000">140</text>
<line x1="280.4" y1="311.70" x2="281.9" y2="311.70" stroke="#000" stroke-width="0.8"/>
<line x1="279.09999999999997" y1="303.80" x2="281.9" y2="303.80" stroke="#000" stroke-width="0.8"/>
<text transform="translate(277.40,304.60)" text-anchor="end" font-family="Liberation Serif" font-size="7.0" stroke="#000" stroke-width="0.02" fill="#000">160</text>
<line x1="280.4" y1="295.90" x2="281.9" y2="295.90" stroke="#000" stroke-width="0.8"/>
<line x1="279.09999999999997" y1="288.00" x2="281.9" y2="288.00" stroke="#000" stroke-width="0.8"/>
<text transform="translate(277.40,288.80)" text-anchor="end" font-family="Liberation Serif" font-size="7.0" stroke="#000" stroke-width="0.02" fill="#000">180</text>
<line x1="280.4" y1="280.10" x2="281.9" y2="280.10" stroke="#000" stroke-width="0.8"/>
<line x1="279.09999999999997" y1="272.20" x2="281.9" y2="272.20" stroke="#000" stroke-width="0.8"/>
<text transform="translate(277.40,273.00)" text-anchor="end" font-family="Liberation Serif" font-size="7.0" stroke="#000" stroke-width="0.02" fill="#000">200</text>
<line x1="295.50" y1="430.2" x2="295.50" y2="431.7" stroke="#000" stroke-width="0.8"/>
<line x1="309.50" y1="430.2" x2="309.50" y2="432.7" stroke="#000" stroke-width="0.8"/>
<line x1="323.50" y1="430.2" x2="323.50" y2="431.7" stroke="#000" stroke-width="0.8"/>
<line x1="337.50" y1="430.2" x2="337.50" y2="432.7" stroke="#000" stroke-width="0.8"/>
<line x1="351.50" y1="430.2" x2="351.50" y2="431.7" stroke="#000" stroke-width="0.8"/>
<line x1="365.50" y1="430.2" x2="365.50" y2="432.7" stroke="#000" stroke-width="0.8"/>
<line x1="379.50" y1="430.2" x2="379.50" y2="431.7" stroke="#000" stroke-width="0.8"/>
<line x1="393.50" y1="430.2" x2="393.50" y2="432.7" stroke="#000" stroke-width="0.8"/>
<line x1="407.50" y1="430.2" x2="407.50" y2="431.7" stroke="#000" stroke-width="0.8"/>
<line x1="421.50" y1="430.2" x2="421.50" y2="432.7" stroke="#000" stroke-width="0.8"/>
<line x1="435.50" y1="430.2" x2="435.50" y2="431.7" stroke="#000" stroke-width="0.8"/>
<line x1="449.50" y1="430.2" x2="449.50" y2="432.7" stroke="#000" stroke-width="0.8"/>
<line x1="463.50" y1="430.2" x2="463.50" y2="431.7" stroke="#000" stroke-width="0.8"/>
<line x1="477.50" y1="430.2" x2="477.50" y2="432.7" stroke="#000" stroke-width="0.8"/>
<line x1="491.50" y1="430.2" x2="491.50" y2="431.7" stroke="#000" stroke-width="0.8"/>
<line x1="505.50" y1="430.2" x2="505.50" y2="432.7" stroke="#000" stroke-width="0.8"/>
<line x1="519.50" y1="430.2" x2="519.50" y2="431.7" stroke="#000" stroke-width="0.8"/>
<text transform="translate(309.70,440.20)" text-anchor="middle" font-family="Liberation Serif" font-size="6.9" stroke="#000" stroke-width="0.08" fill="#000">07/09/15</text>
<text transform="translate(337.70,440.20)" text-anchor="middle" font-family="Liberation Serif" font-size="6.9" stroke="#000" stroke-width="0.08" fill="#000">08/19/15</text>
<text transform="translate(365.70,440.20)" text-anchor="middle" font-family="Liberation Serif" font-size="6.9" stroke="#000" stroke-width="0.08" fill="#000">09/03/15</text>
<text transform="translate(393.70,440.20)" text-anchor="middle" font-family="Liberation Serif" font-size="6.9" stroke="#000" stroke-width="0.08" fill="#000">09/21/15</text>
<text transform="translate(421.70,440.20)" text-anchor="middle" font-family="Liberation Serif" font-size="6.9" stroke="#000" stroke-width="0.08" fill="#000">10/05/15</text>
<text transform="translate(449.70,440.20)" text-anchor="middle" font-family="Liberation Serif" font-size="6.9" stroke="#000" stroke-width="0.08" fill="#000">10/19/15</text>
<text transform="translate(477.70,440.20)" text-anchor="middle" font-family="Liberation Serif" font-size="6.9" stroke="#000" stroke-width="0.08" fill="#000">11/06/15</text>
<text transform="translate(505.70,440.20)" text-anchor="middle" font-family="Liberation Serif" font-size="6.9" stroke="#000" stroke-width="0.08" fill="#000">12/15/15</text>
<text transform="translate(399.00,454.00)" text-anchor="middle" font-family="Liberation Serif" font-size="8.3" stroke="#000" stroke-width="0.15" fill="#000">Date</text>
<text transform="translate(264,349) rotate(-90)" text-anchor="middle" font-family="Liberation Serif" font-weight="bold" font-size="8.3">Source contribution (μg m<tspan font-size="5.4" dy="-2.7">-3</tspan><tspan dy="2.7">)</tspan></text>
<rect x="283.8" y="257" width="17.2" height="8.6" fill="#f8b4bc" stroke="#c04a58" stroke-width="0.7"/>
<rect x="283.8" y="266" width="17.2" height="10.2" fill="#a6d8f8"/>
<text transform="translate(303.00,264.20)" text-anchor="start" font-family="Liberation Serif" font-size="7.75" stroke="#000" stroke-width="0.15" fill="#000">Peatland smoke</text>
<text transform="translate(303.00,273.80)" text-anchor="start" font-family="Liberation Serif" font-size="7.75" stroke="#000" stroke-width="0.15" fill="#000">Vehicles</text>
</svg></body></html>
